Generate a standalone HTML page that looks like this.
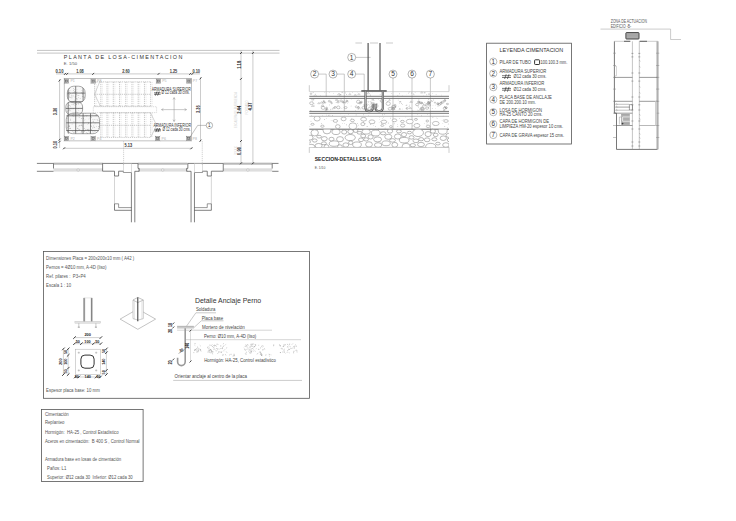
<!DOCTYPE html>
<html><head><meta charset="utf-8"><title>Planta de losa - cimentacion</title><style>html,body{margin:0;padding:0;background:#fff;overflow:hidden;width:736px;height:521px}
.sheet{position:absolute;left:0;top:0;width:736px;height:521px}
svg{display:block}text{font-family:"Liberation Sans",sans-serif}</style></head>
<body><div class="sheet"><svg width="736" height="521" viewBox="0 0 736 521" font-family="Liberation Sans, sans-serif">
<rect width="736" height="521" fill="#fff"/>
<line x1="37.00" y1="50.40" x2="279.50" y2="50.40" stroke="#aaa" stroke-width="0.7" />
<line x1="37.00" y1="53.10" x2="279.50" y2="53.10" stroke="#aaa" stroke-width="0.7" />
<text x="63.8" y="58.9" font-size="5.4" fill="#333" textLength="118.5" lengthAdjust="spacing">PLANTA DE LOSA-CIMENTACION</text>
<text transform="translate(63.80 64.60) scale(0.9539 1)" font-size="4.400" fill="#555" text-anchor="start" font-weight="normal" xml:space="preserve" >E. 1/50</text>
<line x1="56.00" y1="73.90" x2="200.00" y2="73.90" stroke="#999" stroke-width="0.5" />
<line x1="64.00" y1="74.90" x2="66.00" y2="72.90" stroke="#222" stroke-width="0.8" />
<line x1="66.20" y1="74.90" x2="68.20" y2="72.90" stroke="#222" stroke-width="0.8" />
<line x1="92.20" y1="74.90" x2="94.20" y2="72.90" stroke="#222" stroke-width="0.8" />
<line x1="157.60" y1="74.90" x2="159.60" y2="72.90" stroke="#222" stroke-width="0.8" />
<line x1="189.20" y1="74.90" x2="191.20" y2="72.90" stroke="#222" stroke-width="0.8" />
<line x1="191.40" y1="74.90" x2="193.40" y2="72.90" stroke="#222" stroke-width="0.8" />
<text transform="translate(55.40 73.00) scale(0.9249 1)" font-size="4.500" fill="#333" text-anchor="start" font-weight="bold" xml:space="preserve" >0.10</text>
<text transform="translate(80.00 73.00) scale(0.8678 1)" font-size="4.500" fill="#333" text-anchor="middle" font-weight="bold" xml:space="preserve" >1.08</text>
<text transform="translate(126.00 73.00) scale(0.8678 1)" font-size="4.500" fill="#333" text-anchor="middle" font-weight="bold" xml:space="preserve" >2.60</text>
<text transform="translate(173.50 73.00) scale(0.8678 1)" font-size="4.500" fill="#333" text-anchor="middle" font-weight="bold" xml:space="preserve" >1.25</text>
<text transform="translate(192.40 73.00) scale(0.8678 1)" font-size="4.500" fill="#333" text-anchor="start" font-weight="bold" xml:space="preserve" >0.10</text>
<rect x="64.20" y="78.60" width="127.20" height="62.30" stroke="#999" stroke-width="0.6" fill="none" />
<line x1="59.60" y1="79.00" x2="59.60" y2="148.00" stroke="#999" stroke-width="0.5" />
<line x1="58.60" y1="81.50" x2="60.60" y2="79.50" stroke="#222" stroke-width="0.8" />
<line x1="58.60" y1="140.60" x2="60.60" y2="138.60" stroke="#222" stroke-width="0.8" />
<line x1="58.60" y1="142.80" x2="60.60" y2="140.80" stroke="#222" stroke-width="0.8" />
<text transform="translate(57.00 111.50) rotate(-90) scale(0.8678 1)" font-size="4.500" fill="#333" text-anchor="middle" font-weight="bold" xml:space="preserve" >3.36</text>
<text transform="translate(57.00 144.60) rotate(-90) scale(0.8678 1)" font-size="4.500" fill="#333" text-anchor="middle" font-weight="bold" xml:space="preserve" >0.10</text>
<line x1="200.50" y1="77.00" x2="200.50" y2="142.00" stroke="#999" stroke-width="0.5" />
<line x1="199.50" y1="79.40" x2="201.50" y2="77.40" stroke="#222" stroke-width="0.8" />
<line x1="199.50" y1="141.60" x2="201.50" y2="139.60" stroke="#222" stroke-width="0.8" />
<text transform="translate(199.60 109.20) rotate(-90) scale(0.8678 1)" font-size="4.500" fill="#333" text-anchor="middle" font-weight="bold" xml:space="preserve" >3.36</text>
<line x1="63.00" y1="148.30" x2="192.50" y2="148.30" stroke="#999" stroke-width="0.5" />
<line x1="63.10" y1="149.30" x2="65.10" y2="147.30" stroke="#222" stroke-width="0.8" />
<line x1="190.40" y1="149.30" x2="192.40" y2="147.30" stroke="#222" stroke-width="0.8" />
<text transform="translate(124.50 146.90) scale(0.8678 1)" font-size="4.500" fill="#333" text-anchor="start" font-weight="bold" xml:space="preserve" >5.13</text>
<line x1="94.60" y1="81.90" x2="94.60" y2="106.20" stroke="#999" stroke-width="0.55" stroke-dasharray="1.2 0.9"/>
<line x1="96.20" y1="81.90" x2="96.20" y2="106.20" stroke="#ccc" stroke-width="0.4" stroke-dasharray="1.2 0.9"/>
<line x1="100.83" y1="81.90" x2="100.83" y2="106.20" stroke="#999" stroke-width="0.55" stroke-dasharray="1.2 0.9"/>
<line x1="102.43" y1="81.90" x2="102.43" y2="106.20" stroke="#ccc" stroke-width="0.4" stroke-dasharray="1.2 0.9"/>
<line x1="107.06" y1="81.90" x2="107.06" y2="106.20" stroke="#999" stroke-width="0.55" stroke-dasharray="1.2 0.9"/>
<line x1="108.66" y1="81.90" x2="108.66" y2="106.20" stroke="#ccc" stroke-width="0.4" stroke-dasharray="1.2 0.9"/>
<line x1="113.29" y1="81.90" x2="113.29" y2="106.20" stroke="#999" stroke-width="0.55" stroke-dasharray="1.2 0.9"/>
<line x1="114.89" y1="81.90" x2="114.89" y2="106.20" stroke="#ccc" stroke-width="0.4" stroke-dasharray="1.2 0.9"/>
<line x1="119.52" y1="81.90" x2="119.52" y2="106.20" stroke="#999" stroke-width="0.55" stroke-dasharray="1.2 0.9"/>
<line x1="121.12" y1="81.90" x2="121.12" y2="106.20" stroke="#ccc" stroke-width="0.4" stroke-dasharray="1.2 0.9"/>
<line x1="125.75" y1="81.90" x2="125.75" y2="106.20" stroke="#999" stroke-width="0.55" stroke-dasharray="1.2 0.9"/>
<line x1="127.35" y1="81.90" x2="127.35" y2="106.20" stroke="#ccc" stroke-width="0.4" stroke-dasharray="1.2 0.9"/>
<line x1="131.98" y1="81.90" x2="131.98" y2="106.20" stroke="#999" stroke-width="0.55" stroke-dasharray="1.2 0.9"/>
<line x1="133.58" y1="81.90" x2="133.58" y2="106.20" stroke="#ccc" stroke-width="0.4" stroke-dasharray="1.2 0.9"/>
<line x1="138.21" y1="81.90" x2="138.21" y2="106.20" stroke="#999" stroke-width="0.55" stroke-dasharray="1.2 0.9"/>
<line x1="139.81" y1="81.90" x2="139.81" y2="106.20" stroke="#ccc" stroke-width="0.4" stroke-dasharray="1.2 0.9"/>
<line x1="144.44" y1="81.90" x2="144.44" y2="106.20" stroke="#999" stroke-width="0.55" stroke-dasharray="1.2 0.9"/>
<line x1="146.04" y1="81.90" x2="146.04" y2="106.20" stroke="#ccc" stroke-width="0.4" stroke-dasharray="1.2 0.9"/>
<line x1="150.67" y1="81.90" x2="150.67" y2="106.20" stroke="#999" stroke-width="0.55" stroke-dasharray="1.2 0.9"/>
<line x1="152.27" y1="81.90" x2="152.27" y2="106.20" stroke="#ccc" stroke-width="0.4" stroke-dasharray="1.2 0.9"/>
<line x1="94.60" y1="81.90" x2="150.70" y2="81.90" stroke="#999" stroke-width="0.55" stroke-dasharray="1.2 0.9"/>
<line x1="94.60" y1="94.30" x2="150.70" y2="94.30" stroke="#999" stroke-width="0.55" stroke-dasharray="1.2 0.9"/>
<line x1="94.60" y1="106.20" x2="150.70" y2="106.20" stroke="#999" stroke-width="0.55" stroke-dasharray="1.2 0.9"/>
<rect x="93.30" y="106.70" width="63.30" height="5.90" stroke="#bbb" stroke-width="0.5" fill="none" stroke-dasharray="1.4 0.8"/>
<line x1="100.83" y1="112.60" x2="100.83" y2="137.40" stroke="#999" stroke-width="0.55" stroke-dasharray="1.2 0.9"/>
<line x1="102.43" y1="112.60" x2="102.43" y2="137.40" stroke="#ccc" stroke-width="0.4" stroke-dasharray="1.2 0.9"/>
<line x1="107.06" y1="112.60" x2="107.06" y2="137.40" stroke="#999" stroke-width="0.55" stroke-dasharray="1.2 0.9"/>
<line x1="108.66" y1="112.60" x2="108.66" y2="137.40" stroke="#ccc" stroke-width="0.4" stroke-dasharray="1.2 0.9"/>
<line x1="113.29" y1="112.60" x2="113.29" y2="137.40" stroke="#999" stroke-width="0.55" stroke-dasharray="1.2 0.9"/>
<line x1="114.89" y1="112.60" x2="114.89" y2="137.40" stroke="#ccc" stroke-width="0.4" stroke-dasharray="1.2 0.9"/>
<line x1="119.52" y1="112.60" x2="119.52" y2="137.40" stroke="#999" stroke-width="0.55" stroke-dasharray="1.2 0.9"/>
<line x1="121.12" y1="112.60" x2="121.12" y2="137.40" stroke="#ccc" stroke-width="0.4" stroke-dasharray="1.2 0.9"/>
<line x1="125.75" y1="112.60" x2="125.75" y2="137.40" stroke="#999" stroke-width="0.55" stroke-dasharray="1.2 0.9"/>
<line x1="127.35" y1="112.60" x2="127.35" y2="137.40" stroke="#ccc" stroke-width="0.4" stroke-dasharray="1.2 0.9"/>
<line x1="131.98" y1="112.60" x2="131.98" y2="137.40" stroke="#999" stroke-width="0.55" stroke-dasharray="1.2 0.9"/>
<line x1="133.58" y1="112.60" x2="133.58" y2="137.40" stroke="#ccc" stroke-width="0.4" stroke-dasharray="1.2 0.9"/>
<line x1="138.21" y1="112.60" x2="138.21" y2="137.40" stroke="#999" stroke-width="0.55" stroke-dasharray="1.2 0.9"/>
<line x1="139.81" y1="112.60" x2="139.81" y2="137.40" stroke="#ccc" stroke-width="0.4" stroke-dasharray="1.2 0.9"/>
<line x1="144.44" y1="112.60" x2="144.44" y2="137.40" stroke="#999" stroke-width="0.55" stroke-dasharray="1.2 0.9"/>
<line x1="146.04" y1="112.60" x2="146.04" y2="137.40" stroke="#ccc" stroke-width="0.4" stroke-dasharray="1.2 0.9"/>
<line x1="150.67" y1="112.60" x2="150.67" y2="137.40" stroke="#999" stroke-width="0.55" stroke-dasharray="1.2 0.9"/>
<line x1="152.27" y1="112.60" x2="152.27" y2="137.40" stroke="#ccc" stroke-width="0.4" stroke-dasharray="1.2 0.9"/>
<line x1="100.40" y1="112.80" x2="150.70" y2="112.80" stroke="#999" stroke-width="0.55" stroke-dasharray="1.2 0.9"/>
<line x1="100.40" y1="125.30" x2="150.70" y2="125.30" stroke="#999" stroke-width="0.55" stroke-dasharray="1.2 0.9"/>
<line x1="100.40" y1="137.40" x2="150.70" y2="137.40" stroke="#999" stroke-width="0.55" stroke-dasharray="1.2 0.9"/>
<path d="M100.4,80 L94.6,94.3 L100.4,106" stroke="#aaa" stroke-width="0.5" fill="none" />
<path d="M150.7,113.2 L156.6,125.3 L150.7,137.4" stroke="#aaa" stroke-width="0.5" fill="none" />
<rect x="64.40" y="79.10" width="4.20" height="4.00" stroke="#666" stroke-width="0.45" fill="#e8e8e8" />
<rect x="65.40" y="80.10" width="2.20" height="2.00" stroke="#444" stroke-width="0.5" fill="#bbb" />
<line x1="63.70" y1="78.40" x2="69.30" y2="83.80" stroke="#999" stroke-width="0.3" />
<line x1="63.70" y1="83.80" x2="69.30" y2="78.40" stroke="#999" stroke-width="0.3" />
<text transform="translate(70.40 82.40) scale(0.9467 1)" font-size="3.800" fill="#b0b0b0" text-anchor="start" font-weight="normal" xml:space="preserve" >P1</text>
<rect x="91.00" y="79.10" width="4.20" height="4.00" stroke="#666" stroke-width="0.45" fill="#e8e8e8" />
<rect x="92.00" y="80.10" width="2.20" height="2.00" stroke="#444" stroke-width="0.5" fill="#bbb" />
<line x1="90.30" y1="78.40" x2="95.90" y2="83.80" stroke="#999" stroke-width="0.3" />
<line x1="90.30" y1="83.80" x2="95.90" y2="78.40" stroke="#999" stroke-width="0.3" />
<text transform="translate(97.00 82.40) scale(0.9467 1)" font-size="3.800" fill="#b0b0b0" text-anchor="start" font-weight="normal" xml:space="preserve" >P3</text>
<rect x="156.20" y="79.10" width="4.20" height="4.00" stroke="#666" stroke-width="0.45" fill="#e8e8e8" />
<rect x="157.20" y="80.10" width="2.20" height="2.00" stroke="#444" stroke-width="0.5" fill="#bbb" />
<line x1="155.50" y1="78.40" x2="161.10" y2="83.80" stroke="#999" stroke-width="0.3" />
<line x1="155.50" y1="83.80" x2="161.10" y2="78.40" stroke="#999" stroke-width="0.3" />
<text transform="translate(162.20 82.40) scale(0.9467 1)" font-size="3.800" fill="#b0b0b0" text-anchor="start" font-weight="normal" xml:space="preserve" >P5</text>
<rect x="186.80" y="79.10" width="4.20" height="4.00" stroke="#666" stroke-width="0.45" fill="#e8e8e8" />
<rect x="187.80" y="80.10" width="2.20" height="2.00" stroke="#444" stroke-width="0.5" fill="#bbb" />
<line x1="186.10" y1="78.40" x2="191.70" y2="83.80" stroke="#999" stroke-width="0.3" />
<line x1="186.10" y1="83.80" x2="191.70" y2="78.40" stroke="#999" stroke-width="0.3" />
<text transform="translate(192.80 82.40) scale(0.9467 1)" font-size="3.800" fill="#b0b0b0" text-anchor="start" font-weight="normal" xml:space="preserve" >P7</text>
<rect x="64.40" y="136.40" width="4.20" height="4.00" stroke="#666" stroke-width="0.45" fill="#e8e8e8" />
<rect x="65.40" y="137.40" width="2.20" height="2.00" stroke="#444" stroke-width="0.5" fill="#bbb" />
<line x1="63.70" y1="135.70" x2="69.30" y2="141.10" stroke="#999" stroke-width="0.3" />
<line x1="63.70" y1="141.10" x2="69.30" y2="135.70" stroke="#999" stroke-width="0.3" />
<text transform="translate(70.40 139.70) scale(0.9467 1)" font-size="3.800" fill="#b0b0b0" text-anchor="start" font-weight="normal" xml:space="preserve" >P2</text>
<rect x="91.00" y="136.40" width="4.20" height="4.00" stroke="#666" stroke-width="0.45" fill="#e8e8e8" />
<rect x="92.00" y="137.40" width="2.20" height="2.00" stroke="#444" stroke-width="0.5" fill="#bbb" />
<line x1="90.30" y1="135.70" x2="95.90" y2="141.10" stroke="#999" stroke-width="0.3" />
<line x1="90.30" y1="141.10" x2="95.90" y2="135.70" stroke="#999" stroke-width="0.3" />
<text transform="translate(97.00 139.70) scale(0.9467 1)" font-size="3.800" fill="#b0b0b0" text-anchor="start" font-weight="normal" xml:space="preserve" >P4</text>
<rect x="155.60" y="136.40" width="4.20" height="4.00" stroke="#666" stroke-width="0.45" fill="#e8e8e8" />
<rect x="156.60" y="137.40" width="2.20" height="2.00" stroke="#444" stroke-width="0.5" fill="#bbb" />
<line x1="154.90" y1="135.70" x2="160.50" y2="141.10" stroke="#999" stroke-width="0.3" />
<line x1="154.90" y1="141.10" x2="160.50" y2="135.70" stroke="#999" stroke-width="0.3" />
<text transform="translate(161.60 139.70) scale(0.9467 1)" font-size="3.800" fill="#b0b0b0" text-anchor="start" font-weight="normal" xml:space="preserve" >P6</text>
<rect x="186.60" y="136.40" width="4.20" height="4.00" stroke="#666" stroke-width="0.45" fill="#e8e8e8" />
<rect x="187.60" y="137.40" width="2.20" height="2.00" stroke="#444" stroke-width="0.5" fill="#bbb" />
<line x1="185.90" y1="135.70" x2="191.50" y2="141.10" stroke="#999" stroke-width="0.3" />
<line x1="185.90" y1="141.10" x2="191.50" y2="135.70" stroke="#999" stroke-width="0.3" />
<text transform="translate(192.60 139.70) scale(0.9467 1)" font-size="3.800" fill="#b0b0b0" text-anchor="start" font-weight="normal" xml:space="preserve" >P8</text>
<text transform="translate(151.70 90.60) scale(0.7780 1)" font-size="4.500" fill="#333" text-anchor="start" font-weight="normal" xml:space="preserve" >ARMADURA SUPERIOR</text>
<text transform="translate(161.50 94.20) scale(0.7467 1)" font-size="4.500" fill="#333" text-anchor="start" font-weight="normal" xml:space="preserve" >Ø 12 cada 30 cms.</text>
<text transform="translate(153.50 126.50) scale(0.7792 1)" font-size="4.500" fill="#333" text-anchor="start" font-weight="normal" xml:space="preserve" >ARMADURA INFERIOR</text>
<text transform="translate(162.40 130.50) scale(0.7467 1)" font-size="4.500" fill="#333" text-anchor="start" font-weight="normal" xml:space="preserve" >Ø 12 cada 30 cms.</text>
<line x1="154.00" y1="92.80" x2="160.60" y2="92.80" stroke="#222" stroke-width="0.6" />
<line x1="154.00" y1="94.30" x2="160.60" y2="94.30" stroke="#222" stroke-width="0.6" />
<line x1="155.40" y1="95.60" x2="157.00" y2="91.50" stroke="#222" stroke-width="0.65" />
<line x1="157.60" y1="95.60" x2="159.20" y2="91.50" stroke="#222" stroke-width="0.65" />
<line x1="154.40" y1="129.30" x2="161.00" y2="129.30" stroke="#222" stroke-width="0.6" />
<line x1="154.40" y1="130.80" x2="161.00" y2="130.80" stroke="#222" stroke-width="0.6" />
<line x1="155.80" y1="132.10" x2="157.40" y2="128.00" stroke="#222" stroke-width="0.65" />
<line x1="158.00" y1="132.10" x2="159.60" y2="128.00" stroke="#222" stroke-width="0.65" />
<line x1="174.10" y1="97.60" x2="174.10" y2="121.50" stroke="#888" stroke-width="0.45" />
<line x1="161.50" y1="109.60" x2="186.50" y2="109.60" stroke="#888" stroke-width="0.45" />
<line x1="174.10" y1="97.60" x2="173.00" y2="99.50" stroke="#888" stroke-width="0.45" />
<line x1="174.10" y1="97.60" x2="175.20" y2="99.50" stroke="#888" stroke-width="0.45" />
<line x1="174.10" y1="121.50" x2="173.00" y2="119.60" stroke="#888" stroke-width="0.45" />
<line x1="174.10" y1="121.50" x2="175.20" y2="119.60" stroke="#888" stroke-width="0.45" />
<line x1="161.50" y1="109.60" x2="163.40" y2="108.50" stroke="#888" stroke-width="0.45" />
<line x1="161.50" y1="109.60" x2="163.40" y2="110.70" stroke="#888" stroke-width="0.45" />
<line x1="186.50" y1="109.60" x2="184.60" y2="108.50" stroke="#888" stroke-width="0.45" />
<line x1="186.50" y1="109.60" x2="184.60" y2="110.70" stroke="#888" stroke-width="0.45" />
<line x1="206.40" y1="125.40" x2="197.70" y2="125.40" stroke="#777" stroke-width="0.45" />
<line x1="197.70" y1="125.40" x2="190.60" y2="136.20" stroke="#777" stroke-width="0.45" />
<circle cx="209.40" cy="125.40" r="3.20" stroke="#777" stroke-width="0.55" fill="#fff"/>
<text x="209.40" y="127.06" font-size="4.6" fill="#333" text-anchor="middle" font-weight="normal" >1</text>
<defs><clipPath id="blob"><rect x="67.3" y="86.2" width="17.9" height="16.6" rx="6.5" ry="6.5"/><rect x="65.8" y="101.8" width="16.8" height="13" rx="5" ry="5"/><rect x="66.2" y="113.2" width="33.3" height="20.5" rx="6.5" ry="6.5"/><rect x="66.2" y="113.2" width="14" height="20.5" rx="3" ry="3"/></clipPath></defs>
<g clip-path="url(#blob)">
<rect x="60.00" y="84.00" width="45.00" height="52.00" stroke="none" stroke-width="0" fill="#f8f8f8" />
<circle cx="76.3" cy="92.4" r="0.36" fill="#888"/>
<circle cx="67.5" cy="111.3" r="0.29" fill="#888"/>
<circle cx="67.0" cy="109.9" r="0.21" fill="#888"/>
<circle cx="80.2" cy="88.4" r="0.22" fill="#888"/>
<circle cx="79.9" cy="125.5" r="0.23" fill="#888"/>
<circle cx="72.8" cy="115.7" r="0.44" fill="#888"/>
<circle cx="85.2" cy="104.4" r="0.44" fill="#888"/>
<circle cx="66.6" cy="127.1" r="0.27" fill="#888"/>
<circle cx="70.0" cy="90.8" r="0.28" fill="#888"/>
<circle cx="93.6" cy="93.9" r="0.35" fill="#888"/>
<circle cx="87.4" cy="103.2" r="0.34" fill="#888"/>
<circle cx="67.2" cy="87.9" r="0.25" fill="#888"/>
<circle cx="88.8" cy="106.0" r="0.28" fill="#888"/>
<circle cx="85.5" cy="107.2" r="0.27" fill="#888"/>
<circle cx="92.8" cy="119.3" r="0.26" fill="#888"/>
<circle cx="85.1" cy="110.7" r="0.42" fill="#888"/>
<circle cx="90.5" cy="99.1" r="0.45" fill="#888"/>
<circle cx="69.1" cy="105.5" r="0.39" fill="#888"/>
<circle cx="70.3" cy="109.0" r="0.21" fill="#888"/>
<circle cx="88.4" cy="122.5" r="0.34" fill="#888"/>
<circle cx="95.6" cy="100.4" r="0.37" fill="#888"/>
<circle cx="85.8" cy="113.4" r="0.31" fill="#888"/>
<circle cx="94.4" cy="131.3" r="0.32" fill="#888"/>
<circle cx="88.2" cy="88.0" r="0.38" fill="#888"/>
<circle cx="87.6" cy="133.7" r="0.41" fill="#888"/>
<circle cx="75.0" cy="103.9" r="0.37" fill="#888"/>
<circle cx="65.8" cy="107.6" r="0.24" fill="#888"/>
<circle cx="69.1" cy="87.9" r="0.39" fill="#888"/>
<circle cx="69.5" cy="97.1" r="0.30" fill="#888"/>
<circle cx="95.5" cy="88.9" r="0.31" fill="#888"/>
<circle cx="84.2" cy="128.3" r="0.40" fill="#888"/>
<circle cx="95.2" cy="98.6" r="0.30" fill="#888"/>
<circle cx="77.6" cy="128.3" r="0.44" fill="#888"/>
<circle cx="70.3" cy="93.6" r="0.26" fill="#888"/>
<circle cx="73.2" cy="108.8" r="0.35" fill="#888"/>
<circle cx="74.2" cy="85.2" r="0.30" fill="#888"/>
<circle cx="77.9" cy="112.8" r="0.44" fill="#888"/>
<circle cx="89.2" cy="110.3" r="0.35" fill="#888"/>
<circle cx="88.7" cy="87.6" r="0.42" fill="#888"/>
<circle cx="92.3" cy="127.9" r="0.40" fill="#888"/>
<circle cx="78.7" cy="104.5" r="0.23" fill="#888"/>
<circle cx="87.2" cy="88.1" r="0.22" fill="#888"/>
<circle cx="72.3" cy="93.0" r="0.29" fill="#888"/>
<circle cx="66.8" cy="85.0" r="0.24" fill="#888"/>
<circle cx="68.6" cy="102.8" r="0.21" fill="#888"/>
<circle cx="95.6" cy="115.1" r="0.24" fill="#888"/>
<circle cx="73.8" cy="102.0" r="0.29" fill="#888"/>
<circle cx="69.3" cy="126.6" r="0.45" fill="#888"/>
<circle cx="81.3" cy="108.7" r="0.22" fill="#888"/>
<circle cx="68.6" cy="101.8" r="0.27" fill="#888"/>
<circle cx="94.0" cy="92.9" r="0.21" fill="#888"/>
<circle cx="98.3" cy="110.9" r="0.24" fill="#888"/>
<circle cx="84.0" cy="86.3" r="0.33" fill="#888"/>
<circle cx="99.2" cy="127.3" r="0.37" fill="#888"/>
<circle cx="74.1" cy="103.0" r="0.24" fill="#888"/>
<circle cx="92.0" cy="111.1" r="0.39" fill="#888"/>
<circle cx="76.5" cy="95.9" r="0.40" fill="#888"/>
<circle cx="99.5" cy="126.8" r="0.40" fill="#888"/>
<circle cx="93.6" cy="121.3" r="0.26" fill="#888"/>
<circle cx="83.1" cy="102.4" r="0.21" fill="#888"/>
<circle cx="66.0" cy="98.7" r="0.26" fill="#888"/>
<circle cx="89.2" cy="131.9" r="0.31" fill="#888"/>
<circle cx="97.8" cy="133.4" r="0.44" fill="#888"/>
<circle cx="77.8" cy="95.8" r="0.26" fill="#888"/>
<circle cx="71.9" cy="95.0" r="0.36" fill="#888"/>
<circle cx="96.5" cy="126.2" r="0.32" fill="#888"/>
<circle cx="87.9" cy="124.2" r="0.22" fill="#888"/>
<circle cx="88.1" cy="129.6" r="0.40" fill="#888"/>
<circle cx="91.3" cy="108.4" r="0.24" fill="#888"/>
<circle cx="92.6" cy="101.3" r="0.40" fill="#888"/>
<circle cx="99.0" cy="104.4" r="0.30" fill="#888"/>
<circle cx="98.1" cy="120.5" r="0.24" fill="#888"/>
<circle cx="69.4" cy="92.4" r="0.43" fill="#888"/>
<circle cx="93.2" cy="92.2" r="0.41" fill="#888"/>
<circle cx="99.3" cy="117.2" r="0.29" fill="#888"/>
<circle cx="84.2" cy="91.4" r="0.20" fill="#888"/>
<circle cx="99.0" cy="116.8" r="0.33" fill="#888"/>
<circle cx="97.7" cy="106.3" r="0.42" fill="#888"/>
<circle cx="93.9" cy="95.3" r="0.26" fill="#888"/>
<circle cx="75.3" cy="96.8" r="0.35" fill="#888"/>
<circle cx="74.1" cy="105.5" r="0.23" fill="#888"/>
<circle cx="96.9" cy="102.3" r="0.31" fill="#888"/>
<circle cx="85.4" cy="129.3" r="0.31" fill="#888"/>
<circle cx="97.1" cy="109.6" r="0.33" fill="#888"/>
<circle cx="83.3" cy="85.9" r="0.31" fill="#888"/>
<circle cx="71.4" cy="85.2" r="0.40" fill="#888"/>
<circle cx="71.0" cy="108.2" r="0.38" fill="#888"/>
<circle cx="84.5" cy="101.0" r="0.33" fill="#888"/>
<circle cx="84.4" cy="123.4" r="0.23" fill="#888"/>
<circle cx="84.6" cy="97.2" r="0.27" fill="#888"/>
<circle cx="92.0" cy="109.9" r="0.34" fill="#888"/>
<circle cx="91.6" cy="129.7" r="0.31" fill="#888"/>
<circle cx="86.4" cy="109.8" r="0.33" fill="#888"/>
<circle cx="89.2" cy="107.2" r="0.33" fill="#888"/>
<circle cx="81.7" cy="131.1" r="0.37" fill="#888"/>
<circle cx="95.7" cy="131.2" r="0.26" fill="#888"/>
<circle cx="84.6" cy="131.2" r="0.41" fill="#888"/>
<circle cx="69.8" cy="91.0" r="0.31" fill="#888"/>
<circle cx="67.5" cy="96.8" r="0.22" fill="#888"/>
<circle cx="88.4" cy="123.4" r="0.42" fill="#888"/>
<circle cx="70.4" cy="120.1" r="0.37" fill="#888"/>
<circle cx="70.0" cy="128.3" r="0.44" fill="#888"/>
<circle cx="72.7" cy="131.7" r="0.30" fill="#888"/>
<circle cx="82.1" cy="133.5" r="0.41" fill="#888"/>
<circle cx="70.7" cy="106.1" r="0.33" fill="#888"/>
<circle cx="76.9" cy="94.6" r="0.28" fill="#888"/>
<circle cx="90.3" cy="86.0" r="0.34" fill="#888"/>
<circle cx="80.4" cy="85.9" r="0.28" fill="#888"/>
<circle cx="86.8" cy="110.1" r="0.22" fill="#888"/>
<circle cx="99.5" cy="123.6" r="0.44" fill="#888"/>
<circle cx="68.7" cy="98.0" r="0.21" fill="#888"/>
<circle cx="92.3" cy="98.3" r="0.23" fill="#888"/>
<circle cx="79.8" cy="129.7" r="0.40" fill="#888"/>
<circle cx="74.1" cy="92.3" r="0.43" fill="#888"/>
<circle cx="85.0" cy="119.3" r="0.22" fill="#888"/>
<circle cx="67.0" cy="118.7" r="0.31" fill="#888"/>
<circle cx="67.5" cy="131.0" r="0.36" fill="#888"/>
<circle cx="93.1" cy="89.1" r="0.41" fill="#888"/>
<circle cx="67.3" cy="127.3" r="0.31" fill="#888"/>
<circle cx="76.9" cy="112.1" r="0.43" fill="#888"/>
<circle cx="74.4" cy="91.3" r="0.33" fill="#888"/>
<circle cx="73.3" cy="90.4" r="0.24" fill="#888"/>
<circle cx="66.8" cy="94.9" r="0.28" fill="#888"/>
<circle cx="75.7" cy="122.2" r="0.27" fill="#888"/>
<circle cx="82.5" cy="93.7" r="0.29" fill="#888"/>
<circle cx="65.6" cy="97.3" r="0.20" fill="#888"/>
<circle cx="90.7" cy="112.0" r="0.25" fill="#888"/>
<circle cx="81.6" cy="130.8" r="0.23" fill="#888"/>
<circle cx="93.7" cy="106.2" r="0.32" fill="#888"/>
<circle cx="94.2" cy="104.3" r="0.33" fill="#888"/>
<circle cx="89.1" cy="133.1" r="0.29" fill="#888"/>
<circle cx="94.1" cy="119.6" r="0.36" fill="#888"/>
<circle cx="79.2" cy="102.0" r="0.21" fill="#888"/>
<circle cx="69.5" cy="88.5" r="0.39" fill="#888"/>
<circle cx="73.9" cy="93.0" r="0.22" fill="#888"/>
<circle cx="94.4" cy="127.7" r="0.37" fill="#888"/>
<circle cx="74.9" cy="96.9" r="0.27" fill="#888"/>
<circle cx="81.1" cy="92.7" r="0.31" fill="#888"/>
<circle cx="74.2" cy="132.1" r="0.44" fill="#888"/>
<circle cx="84.1" cy="97.0" r="0.44" fill="#888"/>
<circle cx="75.8" cy="102.5" r="0.20" fill="#888"/>
<circle cx="78.4" cy="108.3" r="0.33" fill="#888"/>
<circle cx="72.0" cy="109.7" r="0.20" fill="#888"/>
<circle cx="74.2" cy="89.4" r="0.30" fill="#888"/>
<circle cx="66.5" cy="86.1" r="0.28" fill="#888"/>
<circle cx="73.1" cy="113.7" r="0.33" fill="#888"/>
<circle cx="91.3" cy="117.2" r="0.38" fill="#888"/>
<circle cx="95.8" cy="104.1" r="0.28" fill="#888"/>
<circle cx="99.5" cy="92.3" r="0.38" fill="#888"/>
<circle cx="87.5" cy="87.1" r="0.41" fill="#888"/>
<circle cx="96.2" cy="115.7" r="0.38" fill="#888"/>
<circle cx="93.4" cy="91.8" r="0.33" fill="#888"/>
<circle cx="82.7" cy="125.9" r="0.40" fill="#888"/>
<circle cx="93.9" cy="113.6" r="0.42" fill="#888"/>
<circle cx="88.9" cy="119.0" r="0.26" fill="#888"/>
<circle cx="66.1" cy="91.5" r="0.29" fill="#888"/>
<circle cx="68.7" cy="126.0" r="0.34" fill="#888"/>
<circle cx="87.0" cy="115.7" r="0.37" fill="#888"/>
<circle cx="82.1" cy="85.2" r="0.40" fill="#888"/>
<circle cx="91.2" cy="109.6" r="0.33" fill="#888"/>
<circle cx="88.1" cy="88.2" r="0.38" fill="#888"/>
<circle cx="73.8" cy="88.6" r="0.27" fill="#888"/>
<circle cx="90.5" cy="95.1" r="0.38" fill="#888"/>
<circle cx="99.2" cy="109.2" r="0.30" fill="#888"/>
<circle cx="81.8" cy="118.5" r="0.39" fill="#888"/>
<circle cx="86.6" cy="116.5" r="0.22" fill="#888"/>
<circle cx="70.2" cy="97.4" r="0.39" fill="#888"/>
<circle cx="75.7" cy="112.8" r="0.20" fill="#888"/>
<circle cx="67.1" cy="98.2" r="0.37" fill="#888"/>
<circle cx="89.2" cy="118.1" r="0.27" fill="#888"/>
<circle cx="83.1" cy="107.8" r="0.32" fill="#888"/>
<circle cx="69.1" cy="128.8" r="0.25" fill="#888"/>
<circle cx="99.2" cy="130.9" r="0.20" fill="#888"/>
<circle cx="81.1" cy="125.2" r="0.44" fill="#888"/>
<circle cx="80.7" cy="98.2" r="0.25" fill="#888"/>
<circle cx="98.1" cy="95.3" r="0.35" fill="#888"/>
<circle cx="70.0" cy="110.7" r="0.44" fill="#888"/>
<circle cx="69.6" cy="125.2" r="0.33" fill="#888"/>
<circle cx="96.0" cy="119.5" r="0.26" fill="#888"/>
<circle cx="96.4" cy="108.8" r="0.21" fill="#888"/>
<circle cx="65.1" cy="109.1" r="0.31" fill="#888"/>
<circle cx="75.6" cy="91.9" r="0.29" fill="#888"/>
<circle cx="76.1" cy="126.2" r="0.20" fill="#888"/>
<circle cx="91.3" cy="126.1" r="0.23" fill="#888"/>
<circle cx="97.4" cy="119.9" r="0.43" fill="#888"/>
<circle cx="75.1" cy="103.2" r="0.30" fill="#888"/>
<circle cx="100.0" cy="113.9" r="0.29" fill="#888"/>
<circle cx="80.0" cy="98.5" r="0.21" fill="#888"/>
<circle cx="68.6" cy="125.9" r="0.27" fill="#888"/>
<circle cx="97.7" cy="97.2" r="0.27" fill="#888"/>
<circle cx="82.9" cy="94.3" r="0.29" fill="#888"/>
<circle cx="98.5" cy="128.3" r="0.40" fill="#888"/>
<circle cx="87.1" cy="129.8" r="0.44" fill="#888"/>
<circle cx="84.2" cy="120.3" r="0.21" fill="#888"/>
<circle cx="90.6" cy="107.1" r="0.39" fill="#888"/>
<circle cx="87.6" cy="99.0" r="0.21" fill="#888"/>
<circle cx="97.4" cy="91.2" r="0.32" fill="#888"/>
<circle cx="77.0" cy="99.6" r="0.38" fill="#888"/>
<circle cx="99.2" cy="97.7" r="0.36" fill="#888"/>
<circle cx="75.5" cy="112.3" r="0.30" fill="#888"/>
<circle cx="70.9" cy="92.9" r="0.25" fill="#888"/>
<circle cx="96.7" cy="109.4" r="0.26" fill="#888"/>
<circle cx="96.7" cy="133.8" r="0.31" fill="#888"/>
<circle cx="69.9" cy="94.4" r="0.22" fill="#888"/>
<circle cx="77.0" cy="89.5" r="0.26" fill="#888"/>
<circle cx="74.0" cy="112.9" r="0.42" fill="#888"/>
<circle cx="91.2" cy="105.2" r="0.30" fill="#888"/>
<circle cx="83.3" cy="103.5" r="0.28" fill="#888"/>
<circle cx="67.2" cy="98.6" r="0.44" fill="#888"/>
<circle cx="69.4" cy="109.7" r="0.36" fill="#888"/>
<circle cx="95.2" cy="95.6" r="0.27" fill="#888"/>
<circle cx="73.7" cy="104.6" r="0.31" fill="#888"/>
<circle cx="98.4" cy="126.6" r="0.42" fill="#888"/>
<circle cx="65.8" cy="86.6" r="0.38" fill="#888"/>
<circle cx="96.3" cy="108.2" r="0.35" fill="#888"/>
<circle cx="65.0" cy="104.2" r="0.43" fill="#888"/>
<circle cx="93.9" cy="126.9" r="0.44" fill="#888"/>
<circle cx="73.7" cy="90.3" r="0.24" fill="#888"/>
<circle cx="83.3" cy="118.4" r="0.44" fill="#888"/>
<circle cx="90.3" cy="116.7" r="0.39" fill="#888"/>
<circle cx="81.0" cy="112.0" r="0.21" fill="#888"/>
<circle cx="92.4" cy="96.4" r="0.43" fill="#888"/>
<circle cx="87.6" cy="99.9" r="0.23" fill="#888"/>
<circle cx="73.8" cy="116.2" r="0.37" fill="#888"/>
<circle cx="68.9" cy="88.4" r="0.33" fill="#888"/>
<circle cx="85.4" cy="104.0" r="0.26" fill="#888"/>
<circle cx="86.0" cy="85.5" r="0.28" fill="#888"/>
<circle cx="81.1" cy="132.0" r="0.36" fill="#888"/>
<circle cx="95.9" cy="108.3" r="0.26" fill="#888"/>
<circle cx="73.6" cy="132.1" r="0.38" fill="#888"/>
<circle cx="75.8" cy="86.1" r="0.32" fill="#888"/>
<circle cx="88.6" cy="105.6" r="0.26" fill="#888"/>
<circle cx="88.4" cy="130.3" r="0.26" fill="#888"/>
<circle cx="66.2" cy="101.6" r="0.31" fill="#888"/>
<circle cx="88.9" cy="94.7" r="0.40" fill="#888"/>
<circle cx="90.9" cy="109.7" r="0.25" fill="#888"/>
<circle cx="98.9" cy="100.3" r="0.41" fill="#888"/>
<circle cx="73.1" cy="95.9" r="0.39" fill="#888"/>
<circle cx="75.3" cy="131.6" r="0.32" fill="#888"/>
<circle cx="71.6" cy="95.9" r="0.30" fill="#888"/>
<circle cx="88.3" cy="131.5" r="0.24" fill="#888"/>
<circle cx="78.8" cy="95.4" r="0.44" fill="#888"/>
<circle cx="70.0" cy="87.5" r="0.22" fill="#888"/>
<circle cx="78.8" cy="129.0" r="0.42" fill="#888"/>
<circle cx="90.6" cy="133.9" r="0.43" fill="#888"/>
<circle cx="76.5" cy="94.1" r="0.43" fill="#888"/>
<circle cx="91.1" cy="86.6" r="0.37" fill="#888"/>
<circle cx="78.3" cy="103.3" r="0.28" fill="#888"/>
<circle cx="70.9" cy="85.1" r="0.27" fill="#888"/>
<circle cx="77.3" cy="131.8" r="0.23" fill="#888"/>
<circle cx="98.7" cy="95.2" r="0.29" fill="#888"/>
<circle cx="93.8" cy="125.3" r="0.31" fill="#888"/>
<circle cx="66.7" cy="108.2" r="0.29" fill="#888"/>
<circle cx="97.2" cy="94.5" r="0.29" fill="#888"/>
<circle cx="96.4" cy="86.5" r="0.30" fill="#888"/>
<circle cx="93.4" cy="122.6" r="0.21" fill="#888"/>
<circle cx="66.2" cy="88.1" r="0.43" fill="#888"/>
<circle cx="74.0" cy="121.6" r="0.42" fill="#888"/>
<circle cx="76.9" cy="98.3" r="0.44" fill="#888"/>
<circle cx="86.6" cy="97.8" r="0.38" fill="#888"/>
<circle cx="76.1" cy="98.5" r="0.20" fill="#888"/>
<circle cx="91.4" cy="129.9" r="0.36" fill="#888"/>
<circle cx="98.0" cy="86.2" r="0.26" fill="#888"/>
<circle cx="81.6" cy="131.9" r="0.44" fill="#888"/>
<circle cx="78.5" cy="97.3" r="0.31" fill="#888"/>
<circle cx="82.3" cy="130.5" r="0.25" fill="#888"/>
<circle cx="93.1" cy="121.2" r="0.41" fill="#888"/>
<circle cx="92.0" cy="114.8" r="0.28" fill="#888"/>
<circle cx="76.2" cy="102.7" r="0.40" fill="#888"/>
<circle cx="67.8" cy="94.7" r="0.39" fill="#888"/>
<circle cx="73.7" cy="88.2" r="0.21" fill="#888"/>
<circle cx="84.3" cy="101.0" r="0.45" fill="#888"/>
<circle cx="95.9" cy="133.4" r="0.27" fill="#888"/>
<circle cx="67.9" cy="89.7" r="0.32" fill="#888"/>
<circle cx="89.8" cy="106.9" r="0.26" fill="#888"/>
<circle cx="79.6" cy="115.4" r="0.37" fill="#888"/>
<circle cx="91.2" cy="126.5" r="0.37" fill="#888"/>
<circle cx="69.2" cy="126.2" r="0.27" fill="#888"/>
<circle cx="84.8" cy="103.3" r="0.38" fill="#888"/>
<circle cx="72.0" cy="97.1" r="0.26" fill="#888"/>
<circle cx="70.4" cy="128.3" r="0.34" fill="#888"/>
<circle cx="76.4" cy="104.4" r="0.45" fill="#888"/>
<circle cx="82.8" cy="96.3" r="0.40" fill="#888"/>
<circle cx="87.9" cy="133.6" r="0.23" fill="#888"/>
<circle cx="81.6" cy="125.1" r="0.41" fill="#888"/>
<circle cx="97.0" cy="87.0" r="0.27" fill="#888"/>
<circle cx="69.2" cy="94.3" r="0.44" fill="#888"/>
<circle cx="85.4" cy="130.6" r="0.29" fill="#888"/>
<circle cx="95.3" cy="107.0" r="0.26" fill="#888"/>
<circle cx="92.2" cy="131.3" r="0.23" fill="#888"/>
<circle cx="85.9" cy="115.4" r="0.25" fill="#888"/>
<circle cx="77.9" cy="91.9" r="0.25" fill="#888"/>
<circle cx="73.9" cy="114.4" r="0.36" fill="#888"/>
<circle cx="72.1" cy="85.6" r="0.28" fill="#888"/>
<circle cx="88.7" cy="94.1" r="0.28" fill="#888"/>
<circle cx="72.1" cy="124.0" r="0.34" fill="#888"/>
<circle cx="67.2" cy="90.0" r="0.30" fill="#888"/>
<circle cx="84.3" cy="116.3" r="0.22" fill="#888"/>
<circle cx="70.7" cy="119.1" r="0.30" fill="#888"/>
<circle cx="74.9" cy="100.1" r="0.44" fill="#888"/>
<line x1="75.93" y1="112.76" x2="75.18" y2="113.71" stroke="#999" stroke-width="0.35" />
<line x1="95.25" y1="133.83" x2="94.60" y2="134.59" stroke="#999" stroke-width="0.35" />
<line x1="90.48" y1="94.98" x2="92.18" y2="95.04" stroke="#999" stroke-width="0.35" />
<line x1="79.83" y1="125.20" x2="78.43" y2="126.14" stroke="#999" stroke-width="0.35" />
<line x1="81.13" y1="92.96" x2="82.48" y2="93.09" stroke="#999" stroke-width="0.35" />
<line x1="87.42" y1="129.58" x2="88.63" y2="130.33" stroke="#999" stroke-width="0.35" />
<line x1="77.98" y1="109.72" x2="78.64" y2="110.58" stroke="#999" stroke-width="0.35" />
<line x1="83.24" y1="130.35" x2="84.24" y2="131.16" stroke="#999" stroke-width="0.35" />
<line x1="93.17" y1="132.38" x2="93.47" y2="133.25" stroke="#999" stroke-width="0.35" />
<line x1="98.01" y1="132.80" x2="97.16" y2="132.90" stroke="#999" stroke-width="0.35" />
<line x1="97.42" y1="104.01" x2="98.58" y2="103.20" stroke="#999" stroke-width="0.35" />
<line x1="93.86" y1="92.85" x2="94.09" y2="91.86" stroke="#999" stroke-width="0.35" />
<line x1="79.16" y1="126.47" x2="79.62" y2="125.61" stroke="#999" stroke-width="0.35" />
<line x1="72.63" y1="104.59" x2="71.46" y2="104.46" stroke="#999" stroke-width="0.35" />
<line x1="69.31" y1="97.11" x2="69.04" y2="95.43" stroke="#999" stroke-width="0.35" />
<line x1="66.44" y1="112.55" x2="66.48" y2="111.72" stroke="#999" stroke-width="0.35" />
<line x1="94.34" y1="90.77" x2="93.24" y2="89.98" stroke="#999" stroke-width="0.35" />
<line x1="86.95" y1="100.00" x2="85.74" y2="100.67" stroke="#999" stroke-width="0.35" />
<line x1="79.90" y1="117.28" x2="78.73" y2="117.69" stroke="#999" stroke-width="0.35" />
<line x1="65.82" y1="115.33" x2="64.79" y2="115.40" stroke="#999" stroke-width="0.35" />
<line x1="91.72" y1="123.22" x2="90.78" y2="123.47" stroke="#999" stroke-width="0.35" />
<line x1="81.56" y1="90.25" x2="82.41" y2="91.14" stroke="#999" stroke-width="0.35" />
<line x1="68.21" y1="106.66" x2="67.37" y2="106.60" stroke="#999" stroke-width="0.35" />
<line x1="87.28" y1="89.03" x2="87.11" y2="87.46" stroke="#999" stroke-width="0.35" />
<line x1="82.90" y1="87.66" x2="81.72" y2="87.63" stroke="#999" stroke-width="0.35" />
<line x1="98.28" y1="91.67" x2="99.40" y2="90.27" stroke="#999" stroke-width="0.35" />
<line x1="90.62" y1="124.93" x2="91.24" y2="126.61" stroke="#999" stroke-width="0.35" />
<line x1="82.22" y1="131.88" x2="83.05" y2="131.39" stroke="#999" stroke-width="0.35" />
<line x1="92.59" y1="130.60" x2="93.65" y2="131.06" stroke="#999" stroke-width="0.35" />
<line x1="91.47" y1="92.78" x2="92.32" y2="92.13" stroke="#999" stroke-width="0.35" />
<line x1="93.55" y1="92.04" x2="91.83" y2="92.01" stroke="#999" stroke-width="0.35" />
<line x1="72.29" y1="97.88" x2="71.17" y2="97.84" stroke="#999" stroke-width="0.35" />
<line x1="66.29" y1="93.92" x2="67.21" y2="95.40" stroke="#999" stroke-width="0.35" />
<line x1="88.79" y1="128.88" x2="89.56" y2="130.26" stroke="#999" stroke-width="0.35" />
<line x1="69.03" y1="111.01" x2="68.27" y2="110.13" stroke="#999" stroke-width="0.35" />
<line x1="95.55" y1="112.20" x2="94.08" y2="111.40" stroke="#999" stroke-width="0.35" />
<line x1="68.66" y1="133.65" x2="67.84" y2="132.79" stroke="#999" stroke-width="0.35" />
<line x1="92.92" y1="97.97" x2="94.29" y2="97.89" stroke="#999" stroke-width="0.35" />
<line x1="77.61" y1="122.47" x2="76.70" y2="122.82" stroke="#999" stroke-width="0.35" />
<line x1="91.03" y1="87.37" x2="91.47" y2="86.41" stroke="#999" stroke-width="0.35" />
<line x1="87.37" y1="133.22" x2="86.12" y2="132.47" stroke="#999" stroke-width="0.35" />
<line x1="75.94" y1="85.09" x2="76.87" y2="85.29" stroke="#999" stroke-width="0.35" />
<line x1="86.56" y1="106.18" x2="84.87" y2="106.05" stroke="#999" stroke-width="0.35" />
<line x1="69.62" y1="96.14" x2="69.15" y2="95.46" stroke="#999" stroke-width="0.35" />
<line x1="65.09" y1="102.39" x2="66.00" y2="103.11" stroke="#999" stroke-width="0.35" />
<line x1="72.85" y1="113.60" x2="72.00" y2="113.06" stroke="#999" stroke-width="0.35" />
<line x1="86.84" y1="108.27" x2="87.99" y2="109.57" stroke="#999" stroke-width="0.35" />
<line x1="73.53" y1="92.32" x2="74.71" y2="93.13" stroke="#999" stroke-width="0.35" />
<line x1="95.49" y1="123.33" x2="94.63" y2="123.94" stroke="#999" stroke-width="0.35" />
<line x1="65.40" y1="116.60" x2="64.34" y2="116.17" stroke="#999" stroke-width="0.35" />
<line x1="68.20" y1="84.00" x2="68.20" y2="136.00" stroke="#444" stroke-width="0.65" />
<line x1="75.70" y1="84.00" x2="75.70" y2="136.00" stroke="#444" stroke-width="0.65" />
<line x1="83.10" y1="84.00" x2="83.10" y2="136.00" stroke="#444" stroke-width="0.65" />
<line x1="90.50" y1="84.00" x2="90.50" y2="136.00" stroke="#444" stroke-width="0.65" />
<line x1="60.00" y1="93.10" x2="105.00" y2="93.10" stroke="#444" stroke-width="0.65" />
<line x1="60.00" y1="101.70" x2="105.00" y2="101.70" stroke="#444" stroke-width="0.65" />
<line x1="60.00" y1="108.40" x2="105.00" y2="108.40" stroke="#444" stroke-width="0.65" />
<line x1="60.00" y1="115.80" x2="105.00" y2="115.80" stroke="#444" stroke-width="0.65" />
<line x1="60.00" y1="122.80" x2="105.00" y2="122.80" stroke="#444" stroke-width="0.65" />
<line x1="60.00" y1="130.50" x2="105.00" y2="130.50" stroke="#444" stroke-width="0.65" />
</g>
<g fill="none" stroke="#666" stroke-width="0.55"><rect x="67.3" y="86.2" width="17.9" height="16.6" rx="6.5" ry="6.5"/><rect x="65.8" y="101.8" width="16.8" height="13" rx="5" ry="5"/><rect x="66.2" y="113.2" width="33.3" height="20.5" rx="6.5" ry="6.5"/></g>
<g clip-path="url(#blob)"><rect x="60" y="84" width="45" height="52" fill="none" stroke="none"/></g>
<rect x="53.50" y="162.60" width="49.30" height="2.20" stroke="none" stroke-width="0" fill="#c4c4c4" />
<line x1="53.50" y1="163.60" x2="102.80" y2="163.60" stroke="#aaa" stroke-width="0.5" />
<rect x="53.50" y="168.30" width="49.30" height="3.30" stroke="none" stroke-width="0" fill="#dedede" />
<circle cx="78.15" cy="170.00" r="1.30" stroke="#aaa" stroke-width="0.4" fill="#eee"/>
<rect x="138.00" y="162.60" width="49.40" height="2.20" stroke="none" stroke-width="0" fill="#c4c4c4" />
<line x1="138.00" y1="163.60" x2="187.40" y2="163.60" stroke="#aaa" stroke-width="0.5" />
<rect x="138.00" y="168.30" width="49.40" height="3.30" stroke="none" stroke-width="0" fill="#dedede" />
<circle cx="162.70" cy="170.00" r="1.30" stroke="#aaa" stroke-width="0.4" fill="#eee"/>
<rect x="223.50" y="162.60" width="48.70" height="2.20" stroke="none" stroke-width="0" fill="#c4c4c4" />
<line x1="223.50" y1="163.60" x2="272.20" y2="163.60" stroke="#aaa" stroke-width="0.5" />
<rect x="223.50" y="168.30" width="48.70" height="3.30" stroke="none" stroke-width="0" fill="#dedede" />
<circle cx="247.85" cy="170.00" r="1.30" stroke="#aaa" stroke-width="0.4" fill="#eee"/>
<line x1="36.90" y1="163.40" x2="53.50" y2="163.40" stroke="#555" stroke-width="0.75" />
<line x1="36.90" y1="171.30" x2="53.50" y2="171.30" stroke="#555" stroke-width="0.75" />
<line x1="53.50" y1="163.40" x2="53.50" y2="168.50" stroke="#555" stroke-width="0.75" />
<line x1="272.20" y1="163.40" x2="278.50" y2="163.40" stroke="#555" stroke-width="0.75" />
<line x1="272.20" y1="171.30" x2="278.50" y2="171.30" stroke="#555" stroke-width="0.75" />
<line x1="272.20" y1="163.40" x2="272.20" y2="168.50" stroke="#555" stroke-width="0.75" />
<g >
<path d="M102.6,171.3 L102.6,163.4 L138,163.4 L138,168.4 L139.2,168.4 L139.2,171.3" stroke="#555" stroke-width="0.75" fill="none" />
<path d="M102.8,171.2 L114.5,171.2 L114.5,176 L118.6,176 L118.6,171.2 L123.4,171.2 L123.4,172.5 L131.4,172.5 L131.4,222.3" stroke="#555" stroke-width="0.75" fill="none" />
<path d="M134.8,222.3 L134.8,171.3 L139.2,171.3" stroke="#555" stroke-width="0.75" fill="none" />
<line x1="114.50" y1="176.00" x2="114.50" y2="203.80" stroke="#aaa" stroke-width="0.5" />
<path d="M114.5,203.8 L114.5,210.3 L131.6,210.3" stroke="#555" stroke-width="0.75" fill="none" />
<path d="M118.6,207.6 L118.6,203.8 L114.5,203.8" stroke="#555" stroke-width="0.6" fill="none" />
<path d="M118.6,207.6 L131.6,207.6" stroke="#555" stroke-width="0.6" fill="none" />
<rect x="123.40" y="163.60" width="8.00" height="8.90" stroke="#bbb" stroke-width="0.5" fill="none" />
<line x1="123.60" y1="141.20" x2="123.60" y2="165.00" stroke="#999" stroke-width="0.45" stroke-dasharray="1.2 0.9"/>
</g>
<g transform="matrix(-1 0 0 1 325.85 0)">
<path d="M102.6,171.3 L102.6,163.4 L138,163.4 L138,168.4 L139.2,168.4 L139.2,171.3" stroke="#555" stroke-width="0.75" fill="none" />
<path d="M102.8,171.2 L114.5,171.2 L114.5,176 L118.6,176 L118.6,171.2 L123.4,171.2 L123.4,172.5 L131.4,172.5 L131.4,222.3" stroke="#555" stroke-width="0.75" fill="none" />
<path d="M134.8,222.3 L134.8,171.3 L139.2,171.3" stroke="#555" stroke-width="0.75" fill="none" />
<line x1="114.50" y1="176.00" x2="114.50" y2="203.80" stroke="#aaa" stroke-width="0.5" />
<path d="M114.5,203.8 L114.5,210.3 L131.6,210.3" stroke="#555" stroke-width="0.75" fill="none" />
<path d="M118.6,207.6 L118.6,203.8 L114.5,203.8" stroke="#555" stroke-width="0.6" fill="none" />
<path d="M118.6,207.6 L131.6,207.6" stroke="#555" stroke-width="0.6" fill="none" />
<rect x="123.40" y="163.60" width="8.00" height="8.90" stroke="#bbb" stroke-width="0.5" fill="none" />
<line x1="123.60" y1="141.20" x2="123.60" y2="165.00" stroke="#999" stroke-width="0.45" stroke-dasharray="1.2 0.9"/>
</g>
<line x1="241.00" y1="50.40" x2="241.00" y2="163.40" stroke="#999" stroke-width="0.5" />
<line x1="252.90" y1="50.40" x2="252.90" y2="163.40" stroke="#999" stroke-width="0.5" />
<line x1="240.00" y1="54.00" x2="242.00" y2="52.00" stroke="#222" stroke-width="0.8" />
<line x1="240.00" y1="79.90" x2="242.00" y2="77.90" stroke="#222" stroke-width="0.8" />
<line x1="240.00" y1="142.00" x2="242.00" y2="140.00" stroke="#222" stroke-width="0.8" />
<line x1="240.00" y1="164.30" x2="242.00" y2="162.30" stroke="#222" stroke-width="0.8" />
<line x1="251.90" y1="54.00" x2="253.90" y2="52.00" stroke="#222" stroke-width="0.8" />
<line x1="251.90" y1="164.30" x2="253.90" y2="162.30" stroke="#222" stroke-width="0.8" />
<text transform="translate(240.50 64.80) rotate(-90) scale(0.9135 1)" font-size="4.500" fill="#222" text-anchor="middle" font-weight="bold" xml:space="preserve" >1.18</text>
<text transform="translate(240.50 109.80) rotate(-90) scale(0.9135 1)" font-size="4.500" fill="#222" text-anchor="middle" font-weight="bold" xml:space="preserve" >2.44</text>
<text transform="translate(240.50 151.00) rotate(-90) scale(0.9135 1)" font-size="4.500" fill="#222" text-anchor="middle" font-weight="bold" xml:space="preserve" >0.90</text>
<text transform="translate(252.40 106.50) rotate(-90) scale(0.9135 1)" font-size="4.500" fill="#222" text-anchor="middle" font-weight="bold" xml:space="preserve" >4.37</text>
<text transform="translate(236.60 110.00) rotate(-90) scale(0.8603 1)" font-size="3.000" fill="#cfcfcf" text-anchor="middle" font-weight="normal" xml:space="preserve" >ESCALERA DE EMERGENCIA</text>
<text transform="translate(248.40 107.50) rotate(-90) scale(0.9767 1)" font-size="3.000" fill="#cfcfcf" text-anchor="middle" font-weight="normal" xml:space="preserve" >FORJADO</text>
<text transform="translate(236.60 150.50) rotate(-90) scale(0.6279 1)" font-size="3.000" fill="#cfcfcf" text-anchor="middle" font-weight="normal" xml:space="preserve" >FORJADO</text>
<line x1="355.40" y1="43.00" x2="362.00" y2="43.00" stroke="#aaa" stroke-width="0.6" />
<line x1="370.00" y1="43.00" x2="378.00" y2="43.00" stroke="#aaa" stroke-width="0.6" />
<line x1="386.00" y1="43.00" x2="393.00" y2="43.00" stroke="#aaa" stroke-width="0.6" />
<line x1="355.40" y1="57.40" x2="370.60" y2="57.40" stroke="#888" stroke-width="0.45" />
<circle cx="351.70" cy="57.40" r="4.00" stroke="#777" stroke-width="0.55" fill="#fff"/>
<text x="351.70" y="59.78" font-size="6.6" fill="#333" text-anchor="middle" font-weight="normal" >1</text>
<path d="M318.40000000000003,74.1 L326.2,74.1 L326.2,96.8" stroke="#888" stroke-width="0.45" fill="none" />
<path d="M336.8,74.1 L344.3,74.1 L344.3,111.1" stroke="#888" stroke-width="0.45" fill="none" />
<path d="M355.5,74.1 L364.2,74.1 L364.2,91.2" stroke="#888" stroke-width="0.45" fill="none" />
<line x1="393.00" y1="77.90" x2="393.00" y2="129.00" stroke="#888" stroke-width="0.45" />
<line x1="412.00" y1="77.90" x2="412.00" y2="129.00" stroke="#888" stroke-width="0.45" />
<line x1="430.40" y1="77.90" x2="430.40" y2="134.50" stroke="#888" stroke-width="0.45" />
<circle cx="314.60" cy="74.10" r="4.00" stroke="#777" stroke-width="0.55" fill="#fff"/>
<text x="314.60" y="76.48" font-size="6.6" fill="#333" text-anchor="middle" font-weight="normal" >2</text>
<circle cx="333.00" cy="74.10" r="4.00" stroke="#777" stroke-width="0.55" fill="#fff"/>
<text x="333.00" y="76.48" font-size="6.6" fill="#333" text-anchor="middle" font-weight="normal" >3</text>
<circle cx="351.70" cy="74.10" r="4.00" stroke="#777" stroke-width="0.55" fill="#fff"/>
<text x="351.70" y="76.48" font-size="6.6" fill="#333" text-anchor="middle" font-weight="normal" >4</text>
<circle cx="393.00" cy="74.10" r="4.00" stroke="#777" stroke-width="0.55" fill="#fff"/>
<text x="393.00" y="76.48" font-size="6.6" fill="#333" text-anchor="middle" font-weight="normal" >5</text>
<circle cx="412.00" cy="74.10" r="4.00" stroke="#777" stroke-width="0.55" fill="#fff"/>
<text x="412.00" y="76.48" font-size="6.6" fill="#333" text-anchor="middle" font-weight="normal" >6</text>
<circle cx="430.40" cy="74.10" r="4.00" stroke="#777" stroke-width="0.55" fill="#fff"/>
<text x="430.40" y="76.48" font-size="6.6" fill="#333" text-anchor="middle" font-weight="normal" >7</text>
<line x1="309.30" y1="85.20" x2="309.30" y2="91.50" stroke="#999" stroke-width="0.5" />
<line x1="449.00" y1="85.20" x2="449.00" y2="91.50" stroke="#999" stroke-width="0.5" />
<line x1="309.30" y1="147.30" x2="309.30" y2="152.90" stroke="#999" stroke-width="0.5" />
<line x1="449.00" y1="147.30" x2="449.00" y2="152.90" stroke="#999" stroke-width="0.5" />
<line x1="309.30" y1="91.60" x2="449.00" y2="91.60" stroke="#bbb" stroke-width="0.6" />
<line x1="309.30" y1="96.30" x2="449.00" y2="96.30" stroke="#666" stroke-width="0.9" />
<line x1="309.30" y1="98.40" x2="449.00" y2="98.40" stroke="#666" stroke-width="0.9" />
<line x1="309.30" y1="111.40" x2="449.00" y2="111.40" stroke="#666" stroke-width="0.9" />
<line x1="309.30" y1="113.30" x2="449.00" y2="113.30" stroke="#666" stroke-width="0.9" />
<line x1="309.30" y1="116.30" x2="449.00" y2="116.30" stroke="#888" stroke-width="0.6" />
<line x1="309.30" y1="129.20" x2="449.00" y2="129.20" stroke="#555" stroke-width="0.9" />
<line x1="309.30" y1="147.40" x2="449.00" y2="147.40" stroke="#999" stroke-width="0.6" />
<circle cx="399.5" cy="93.8" r="0.39" fill="#888"/>
<circle cx="411.8" cy="93.0" r="0.38" fill="#888"/>
<circle cx="315.4" cy="94.1" r="0.28" fill="#888"/>
<circle cx="342.5" cy="92.2" r="0.36" fill="#888"/>
<circle cx="311.0" cy="94.2" r="0.39" fill="#888"/>
<circle cx="329.2" cy="92.8" r="0.32" fill="#888"/>
<circle cx="380.1" cy="94.6" r="0.36" fill="#888"/>
<circle cx="333.7" cy="93.2" r="0.26" fill="#888"/>
<circle cx="316.1" cy="95.6" r="0.36" fill="#888"/>
<circle cx="409.2" cy="92.0" r="0.37" fill="#888"/>
<circle cx="413.4" cy="93.9" r="0.35" fill="#888"/>
<circle cx="372.5" cy="92.9" r="0.22" fill="#888"/>
<circle cx="341.8" cy="92.2" r="0.27" fill="#888"/>
<circle cx="414.0" cy="94.8" r="0.37" fill="#888"/>
<circle cx="408.7" cy="93.1" r="0.31" fill="#888"/>
<circle cx="370.2" cy="95.2" r="0.30" fill="#888"/>
<circle cx="346.4" cy="94.6" r="0.39" fill="#888"/>
<circle cx="339.6" cy="95.5" r="0.20" fill="#888"/>
<circle cx="345.7" cy="92.9" r="0.35" fill="#888"/>
<circle cx="441.3" cy="95.0" r="0.27" fill="#888"/>
<circle cx="432.3" cy="93.3" r="0.25" fill="#888"/>
<circle cx="436.1" cy="94.5" r="0.34" fill="#888"/>
<circle cx="402.2" cy="95.9" r="0.29" fill="#888"/>
<circle cx="426.6" cy="94.8" r="0.37" fill="#888"/>
<circle cx="370.4" cy="94.9" r="0.31" fill="#888"/>
<circle cx="352.3" cy="92.8" r="0.32" fill="#888"/>
<circle cx="320.2" cy="95.6" r="0.23" fill="#888"/>
<circle cx="313.1" cy="92.4" r="0.39" fill="#888"/>
<circle cx="357.5" cy="92.6" r="0.21" fill="#888"/>
<circle cx="315.1" cy="94.8" r="0.33" fill="#888"/>
<circle cx="406.7" cy="94.9" r="0.21" fill="#888"/>
<circle cx="391.8" cy="93.5" r="0.36" fill="#888"/>
<circle cx="423.8" cy="95.6" r="0.21" fill="#888"/>
<circle cx="430.5" cy="95.7" r="0.39" fill="#888"/>
<circle cx="324.3" cy="92.8" r="0.22" fill="#888"/>
<circle cx="314.1" cy="95.4" r="0.36" fill="#888"/>
<circle cx="397.9" cy="95.3" r="0.33" fill="#888"/>
<circle cx="349.4" cy="92.4" r="0.22" fill="#888"/>
<circle cx="415.1" cy="92.8" r="0.26" fill="#888"/>
<circle cx="368.5" cy="92.1" r="0.25" fill="#888"/>
<path d="M348.8,94.6 l1.1,-1.3 l1.1,1.3z" fill="none" stroke="#999" stroke-width="0.35"/>
<path d="M354.1,95.4 l1.2,-1.4 l1.2,1.4z" fill="none" stroke="#999" stroke-width="0.35"/>
<path d="M428.2,94.4 l0.8,-1.0 l0.8,1.0z" fill="none" stroke="#999" stroke-width="0.35"/>
<path d="M367.0,93.8 l1.3,-1.6 l1.3,1.6z" fill="none" stroke="#999" stroke-width="0.35"/>
<path d="M357.7,94.6 l1.2,-1.4 l1.2,1.4z" fill="none" stroke="#999" stroke-width="0.35"/>
<path d="M339.6,95.1 l0.9,-1.0 l0.9,1.0z" fill="none" stroke="#999" stroke-width="0.35"/>
<path d="M423.8,93.0 l0.8,-1.0 l0.8,1.0z" fill="none" stroke="#999" stroke-width="0.35"/>
<path d="M337.5,94.8 l1.5,-1.8 l1.5,1.8z" fill="none" stroke="#999" stroke-width="0.35"/>
<path d="M309.9,94.0 l1.1,-1.4 l1.1,1.4z" fill="none" stroke="#999" stroke-width="0.35"/>
<path d="M420.6,93.1 l1.1,-1.4 l1.1,1.4z" fill="none" stroke="#999" stroke-width="0.35"/>
<circle cx="357.8" cy="109.0" r="0.25" fill="#888"/>
<circle cx="441.2" cy="102.4" r="0.24" fill="#888"/>
<circle cx="407.0" cy="105.0" r="0.22" fill="#888"/>
<circle cx="398.2" cy="100.0" r="0.36" fill="#888"/>
<circle cx="406.7" cy="108.4" r="0.33" fill="#888"/>
<circle cx="359.0" cy="103.8" r="0.28" fill="#888"/>
<circle cx="433.7" cy="100.0" r="0.38" fill="#888"/>
<circle cx="312.8" cy="101.5" r="0.25" fill="#888"/>
<circle cx="435.2" cy="105.0" r="0.28" fill="#888"/>
<circle cx="432.8" cy="101.8" r="0.29" fill="#888"/>
<circle cx="383.6" cy="108.1" r="0.35" fill="#888"/>
<circle cx="399.6" cy="103.2" r="0.27" fill="#888"/>
<circle cx="331.0" cy="109.1" r="0.33" fill="#888"/>
<circle cx="413.0" cy="101.0" r="0.29" fill="#888"/>
<circle cx="417.3" cy="106.0" r="0.23" fill="#888"/>
<circle cx="373.8" cy="109.6" r="0.25" fill="#888"/>
<circle cx="336.1" cy="102.6" r="0.34" fill="#888"/>
<circle cx="427.2" cy="100.9" r="0.23" fill="#888"/>
<circle cx="343.9" cy="102.9" r="0.30" fill="#888"/>
<circle cx="331.8" cy="102.9" r="0.24" fill="#888"/>
<circle cx="445.5" cy="107.7" r="0.22" fill="#888"/>
<circle cx="443.7" cy="100.2" r="0.28" fill="#888"/>
<circle cx="446.7" cy="108.5" r="0.35" fill="#888"/>
<circle cx="370.1" cy="101.4" r="0.33" fill="#888"/>
<circle cx="324.2" cy="101.5" r="0.28" fill="#888"/>
<circle cx="314.0" cy="103.8" r="0.36" fill="#888"/>
<circle cx="406.2" cy="105.0" r="0.33" fill="#888"/>
<circle cx="374.0" cy="100.7" r="0.32" fill="#888"/>
<circle cx="365.8" cy="107.9" r="0.38" fill="#888"/>
<circle cx="369.4" cy="105.9" r="0.35" fill="#888"/>
<circle cx="368.1" cy="101.7" r="0.34" fill="#888"/>
<circle cx="432.2" cy="108.3" r="0.34" fill="#888"/>
<circle cx="428.4" cy="107.2" r="0.33" fill="#888"/>
<circle cx="372.7" cy="102.8" r="0.33" fill="#888"/>
<circle cx="323.0" cy="104.0" r="0.36" fill="#888"/>
<circle cx="408.9" cy="106.6" r="0.25" fill="#888"/>
<circle cx="368.5" cy="104.5" r="0.32" fill="#888"/>
<circle cx="366.5" cy="107.1" r="0.39" fill="#888"/>
<circle cx="334.9" cy="106.9" r="0.36" fill="#888"/>
<circle cx="363.6" cy="104.9" r="0.39" fill="#888"/>
<circle cx="314.6" cy="105.5" r="0.23" fill="#888"/>
<circle cx="418.5" cy="110.3" r="0.30" fill="#888"/>
<circle cx="323.4" cy="105.9" r="0.31" fill="#888"/>
<circle cx="409.5" cy="105.1" r="0.33" fill="#888"/>
<circle cx="425.1" cy="105.3" r="0.28" fill="#888"/>
<circle cx="441.7" cy="101.5" r="0.34" fill="#888"/>
<circle cx="364.1" cy="108.2" r="0.22" fill="#888"/>
<circle cx="446.8" cy="103.3" r="0.21" fill="#888"/>
<circle cx="347.6" cy="103.8" r="0.20" fill="#888"/>
<circle cx="367.8" cy="104.0" r="0.34" fill="#888"/>
<circle cx="358.5" cy="102.2" r="0.24" fill="#888"/>
<circle cx="412.9" cy="110.3" r="0.31" fill="#888"/>
<circle cx="339.9" cy="108.6" r="0.28" fill="#888"/>
<circle cx="338.9" cy="100.6" r="0.36" fill="#888"/>
<circle cx="422.4" cy="106.6" r="0.29" fill="#888"/>
<circle cx="387.8" cy="101.7" r="0.39" fill="#888"/>
<circle cx="358.6" cy="106.7" r="0.36" fill="#888"/>
<circle cx="423.3" cy="104.6" r="0.26" fill="#888"/>
<circle cx="385.9" cy="100.5" r="0.37" fill="#888"/>
<circle cx="358.9" cy="109.2" r="0.25" fill="#888"/>
<circle cx="361.8" cy="102.0" r="0.29" fill="#888"/>
<circle cx="335.3" cy="99.0" r="0.34" fill="#888"/>
<circle cx="348.6" cy="101.9" r="0.26" fill="#888"/>
<circle cx="376.3" cy="104.1" r="0.33" fill="#888"/>
<circle cx="401.4" cy="103.3" r="0.39" fill="#888"/>
<circle cx="428.7" cy="99.7" r="0.37" fill="#888"/>
<circle cx="435.8" cy="108.4" r="0.23" fill="#888"/>
<circle cx="425.4" cy="106.6" r="0.20" fill="#888"/>
<circle cx="310.9" cy="110.4" r="0.33" fill="#888"/>
<circle cx="344.2" cy="100.2" r="0.23" fill="#888"/>
<circle cx="341.9" cy="108.3" r="0.27" fill="#888"/>
<circle cx="330.6" cy="109.8" r="0.36" fill="#888"/>
<circle cx="332.8" cy="109.7" r="0.32" fill="#888"/>
<circle cx="418.4" cy="107.0" r="0.38" fill="#888"/>
<circle cx="419.4" cy="109.1" r="0.24" fill="#888"/>
<circle cx="406.1" cy="105.4" r="0.35" fill="#888"/>
<circle cx="370.6" cy="109.6" r="0.31" fill="#888"/>
<circle cx="346.2" cy="101.8" r="0.23" fill="#888"/>
<circle cx="378.2" cy="99.7" r="0.29" fill="#888"/>
<circle cx="329.5" cy="104.9" r="0.30" fill="#888"/>
<circle cx="384.7" cy="109.4" r="0.20" fill="#888"/>
<circle cx="426.8" cy="104.6" r="0.31" fill="#888"/>
<circle cx="402.2" cy="109.1" r="0.27" fill="#888"/>
<circle cx="367.8" cy="110.5" r="0.22" fill="#888"/>
<circle cx="398.3" cy="106.6" r="0.21" fill="#888"/>
<circle cx="394.5" cy="107.2" r="0.39" fill="#888"/>
<circle cx="355.5" cy="110.8" r="0.30" fill="#888"/>
<circle cx="377.0" cy="109.8" r="0.21" fill="#888"/>
<circle cx="409.6" cy="106.5" r="0.27" fill="#888"/>
<circle cx="429.7" cy="103.4" r="0.29" fill="#888"/>
<circle cx="382.7" cy="108.2" r="0.24" fill="#888"/>
<circle cx="370.1" cy="104.1" r="0.31" fill="#888"/>
<circle cx="424.8" cy="102.5" r="0.37" fill="#888"/>
<circle cx="365.7" cy="105.0" r="0.25" fill="#888"/>
<circle cx="380.0" cy="110.7" r="0.33" fill="#888"/>
<circle cx="419.9" cy="103.0" r="0.26" fill="#888"/>
<circle cx="351.1" cy="106.0" r="0.33" fill="#888"/>
<circle cx="418.9" cy="99.5" r="0.34" fill="#888"/>
<circle cx="433.0" cy="105.5" r="0.21" fill="#888"/>
<circle cx="351.3" cy="99.1" r="0.24" fill="#888"/>
<circle cx="438.0" cy="106.3" r="0.33" fill="#888"/>
<circle cx="419.5" cy="109.9" r="0.32" fill="#888"/>
<circle cx="395.5" cy="106.5" r="0.34" fill="#888"/>
<circle cx="392.6" cy="107.2" r="0.24" fill="#888"/>
<circle cx="402.5" cy="104.5" r="0.35" fill="#888"/>
<circle cx="323.5" cy="101.2" r="0.21" fill="#888"/>
<circle cx="417.5" cy="110.0" r="0.33" fill="#888"/>
<circle cx="360.8" cy="108.9" r="0.36" fill="#888"/>
<circle cx="387.8" cy="102.1" r="0.26" fill="#888"/>
<circle cx="368.2" cy="102.8" r="0.29" fill="#888"/>
<path d="M399.0,109.3 l0.8,-1.0 l0.8,1.0z" fill="none" stroke="#888" stroke-width="0.35"/>
<path d="M388.6,100.4 l0.9,-1.1 l0.9,1.1z" fill="none" stroke="#888" stroke-width="0.35"/>
<path d="M422.5,105.8 l1.4,-1.7 l1.4,1.7z" fill="none" stroke="#888" stroke-width="0.35"/>
<path d="M371.7,100.1 l1.1,-1.3 l1.1,1.3z" fill="none" stroke="#888" stroke-width="0.35"/>
<path d="M392.0,109.4 l1.5,-1.8 l1.5,1.8z" fill="none" stroke="#888" stroke-width="0.35"/>
<path d="M375.7,104.1 l0.9,-1.0 l0.9,1.0z" fill="none" stroke="#888" stroke-width="0.35"/>
<path d="M399.3,102.1 l0.9,-1.1 l0.9,1.1z" fill="none" stroke="#888" stroke-width="0.35"/>
<path d="M311.5,100.0 l1.3,-1.5 l1.3,1.5z" fill="none" stroke="#888" stroke-width="0.35"/>
<path d="M326.3,109.7 l0.9,-1.0 l0.9,1.0z" fill="none" stroke="#888" stroke-width="0.35"/>
<path d="M430.8,101.3 l0.8,-1.0 l0.8,1.0z" fill="none" stroke="#888" stroke-width="0.35"/>
<path d="M409.8,102.4 l1.3,-1.6 l1.3,1.6z" fill="none" stroke="#888" stroke-width="0.35"/>
<path d="M335.5,100.5 l1.3,-1.6 l1.3,1.6z" fill="none" stroke="#888" stroke-width="0.35"/>
<path d="M409.0,108.6 l1.3,-1.6 l1.3,1.6z" fill="none" stroke="#888" stroke-width="0.35"/>
<path d="M321.1,106.3 l1.3,-1.6 l1.3,1.6z" fill="none" stroke="#888" stroke-width="0.35"/>
<path d="M373.6,109.3 l1.0,-1.2 l1.0,1.2z" fill="none" stroke="#888" stroke-width="0.35"/>
<path d="M444.0,107.2 l0.8,-1.0 l0.8,1.0z" fill="none" stroke="#888" stroke-width="0.35"/>
<path d="M311.4,106.5 l1.4,-1.6 l1.4,1.6z" fill="none" stroke="#888" stroke-width="0.35"/>
<path d="M320.4,103.1 l1.3,-1.6 l1.3,1.6z" fill="none" stroke="#888" stroke-width="0.35"/>
<path d="M332.5,108.6 l1.1,-1.4 l1.1,1.4z" fill="none" stroke="#888" stroke-width="0.35"/>
<path d="M317.7,103.7 l1.2,-1.4 l1.2,1.4z" fill="none" stroke="#888" stroke-width="0.35"/>
<path d="M370.6,106.8 l0.9,-1.1 l0.9,1.1z" fill="none" stroke="#888" stroke-width="0.35"/>
<path d="M420.7,103.6 l1.3,-1.5 l1.3,1.5z" fill="none" stroke="#888" stroke-width="0.35"/>
<ellipse cx="363.6" cy="107.8" rx="1.72" ry="1.28" fill="none" stroke="#888" stroke-width="0.45"/>
<ellipse cx="388.2" cy="103.6" rx="2.13" ry="1.86" fill="none" stroke="#888" stroke-width="0.45"/>
<ellipse cx="407.1" cy="108.4" rx="0.98" ry="0.92" fill="none" stroke="#888" stroke-width="0.45"/>
<ellipse cx="444.6" cy="108.3" rx="1.33" ry="1.08" fill="none" stroke="#888" stroke-width="0.45"/>
<ellipse cx="369.4" cy="108.8" rx="1.68" ry="1.19" fill="none" stroke="#888" stroke-width="0.45"/>
<ellipse cx="393.1" cy="108.9" rx="1.39" ry="1.17" fill="none" stroke="#888" stroke-width="0.45"/>
<ellipse cx="311.5" cy="103.2" rx="1.95" ry="1.36" fill="none" stroke="#888" stroke-width="0.45"/>
<ellipse cx="422.4" cy="108.8" rx="1.45" ry="1.17" fill="none" stroke="#888" stroke-width="0.45"/>
<ellipse cx="422.1" cy="108.8" rx="0.95" ry="0.85" fill="none" stroke="#888" stroke-width="0.45"/>
<ellipse cx="427.1" cy="108.1" rx="1.64" ry="1.14" fill="none" stroke="#888" stroke-width="0.45"/>
<ellipse cx="358.3" cy="101.8" rx="1.79" ry="1.65" fill="none" stroke="#888" stroke-width="0.45"/>
<ellipse cx="338.3" cy="107.4" rx="1.62" ry="1.42" fill="none" stroke="#888" stroke-width="0.45"/>
<ellipse cx="393.6" cy="106.8" rx="2.11" ry="1.44" fill="none" stroke="#888" stroke-width="0.45"/>
<ellipse cx="345.6" cy="107.6" rx="1.50" ry="1.01" fill="none" stroke="#888" stroke-width="0.45"/>
<ellipse cx="323.1" cy="107.9" rx="1.93" ry="1.47" fill="none" stroke="#888" stroke-width="0.45"/>
<ellipse cx="390.0" cy="108.8" rx="1.90" ry="1.30" fill="none" stroke="#888" stroke-width="0.45"/>
<ellipse cx="376.0" cy="106.0" rx="2.05" ry="1.60" fill="none" stroke="#888" stroke-width="0.45"/>
<ellipse cx="335.3" cy="107.3" rx="1.15" ry="0.76" fill="none" stroke="#888" stroke-width="0.45"/>
<ellipse cx="365.8" cy="105.4" rx="1.37" ry="1.09" fill="none" stroke="#888" stroke-width="0.45"/>
<ellipse cx="447.5" cy="104.0" rx="1.09" ry="0.67" fill="none" stroke="#888" stroke-width="0.45"/>
<ellipse cx="418.7" cy="101.9" rx="1.04" ry="0.85" fill="none" stroke="#888" stroke-width="0.45"/>
<ellipse cx="381.8" cy="100.9" rx="1.68" ry="1.21" fill="none" stroke="#888" stroke-width="0.45"/>
<ellipse cx="429.6" cy="105.1" rx="0.94" ry="0.89" fill="none" stroke="#888" stroke-width="0.45"/>
<ellipse cx="417.2" cy="104.6" rx="1.64" ry="1.13" fill="none" stroke="#888" stroke-width="0.45"/>
<ellipse cx="422.3" cy="108.9" rx="2.13" ry="1.85" fill="none" stroke="#888" stroke-width="0.45"/>
<ellipse cx="338.1" cy="102.1" rx="1.23" ry="0.75" fill="none" stroke="#888" stroke-width="0.45"/>
<circle cx="323.7" cy="102.5" r="0.83" fill="none" stroke="#888" stroke-width="0.4"/>
<circle cx="325.1" cy="102.6" r="0.63" fill="none" stroke="#888" stroke-width="0.4"/>
<circle cx="323.8" cy="101.1" r="0.66" fill="none" stroke="#888" stroke-width="0.4"/>
<circle cx="440.8" cy="103.5" r="1.08" fill="none" stroke="#888" stroke-width="0.4"/>
<circle cx="441.2" cy="102.7" r="0.82" fill="none" stroke="#888" stroke-width="0.4"/>
<circle cx="439.3" cy="104.5" r="1.10" fill="none" stroke="#888" stroke-width="0.4"/>
<circle cx="341.1" cy="100.9" r="1.05" fill="none" stroke="#888" stroke-width="0.4"/>
<circle cx="343.4" cy="102.3" r="0.62" fill="none" stroke="#888" stroke-width="0.4"/>
<circle cx="343.0" cy="101.9" r="0.92" fill="none" stroke="#888" stroke-width="0.4"/>
<circle cx="442.8" cy="102.2" r="1.07" fill="none" stroke="#888" stroke-width="0.4"/>
<circle cx="444.7" cy="100.8" r="0.90" fill="none" stroke="#888" stroke-width="0.4"/>
<circle cx="445.0" cy="100.3" r="0.76" fill="none" stroke="#888" stroke-width="0.4"/>
<circle cx="346.6" cy="101.0" r="0.72" fill="none" stroke="#888" stroke-width="0.4"/>
<circle cx="345.4" cy="102.5" r="0.61" fill="none" stroke="#888" stroke-width="0.4"/>
<circle cx="347.4" cy="101.1" r="0.62" fill="none" stroke="#888" stroke-width="0.4"/>
<circle cx="437.9" cy="103.9" r="1.04" fill="none" stroke="#888" stroke-width="0.4"/>
<circle cx="435.0" cy="102.6" r="0.65" fill="none" stroke="#888" stroke-width="0.4"/>
<circle cx="437.9" cy="103.8" r="0.91" fill="none" stroke="#888" stroke-width="0.4"/>
<circle cx="373.9" cy="103.7" r="0.91" fill="none" stroke="#888" stroke-width="0.4"/>
<circle cx="371.5" cy="102.9" r="0.63" fill="none" stroke="#888" stroke-width="0.4"/>
<circle cx="373.5" cy="103.9" r="0.67" fill="none" stroke="#888" stroke-width="0.4"/>
<circle cx="428.4" cy="102.1" r="0.74" fill="none" stroke="#888" stroke-width="0.4"/>
<circle cx="429.9" cy="102.6" r="0.68" fill="none" stroke="#888" stroke-width="0.4"/>
<circle cx="428.7" cy="102.6" r="1.05" fill="none" stroke="#888" stroke-width="0.4"/>
<circle cx="326.0" cy="110.0" r="0.93" fill="none" stroke="#888" stroke-width="0.4"/>
<circle cx="326.5" cy="108.8" r="0.74" fill="none" stroke="#888" stroke-width="0.4"/>
<circle cx="326.7" cy="107.9" r="0.78" fill="none" stroke="#888" stroke-width="0.4"/>
<circle cx="446.3" cy="107.8" r="0.74" fill="none" stroke="#888" stroke-width="0.4"/>
<circle cx="446.2" cy="107.7" r="0.96" fill="none" stroke="#888" stroke-width="0.4"/>
<circle cx="444.1" cy="110.4" r="0.61" fill="none" stroke="#888" stroke-width="0.4"/>
<circle cx="418.9" cy="102.2" r="1.02" fill="none" stroke="#888" stroke-width="0.4"/>
<circle cx="420.3" cy="102.8" r="0.82" fill="none" stroke="#888" stroke-width="0.4"/>
<circle cx="421.7" cy="102.9" r="0.89" fill="none" stroke="#888" stroke-width="0.4"/>
<circle cx="331.7" cy="103.1" r="0.70" fill="none" stroke="#888" stroke-width="0.4"/>
<circle cx="329.2" cy="101.2" r="0.90" fill="none" stroke="#888" stroke-width="0.4"/>
<circle cx="330.7" cy="101.8" r="0.70" fill="none" stroke="#888" stroke-width="0.4"/>
<circle cx="395.3" cy="106.9" r="0.70" fill="none" stroke="#888" stroke-width="0.4"/>
<circle cx="392.6" cy="107.4" r="0.80" fill="none" stroke="#888" stroke-width="0.4"/>
<circle cx="395.0" cy="105.3" r="1.01" fill="none" stroke="#888" stroke-width="0.4"/>
<circle cx="358.4" cy="107.7" r="0.61" fill="none" stroke="#888" stroke-width="0.4"/>
<circle cx="358.6" cy="107.7" r="1.04" fill="none" stroke="#888" stroke-width="0.4"/>
<circle cx="356.3" cy="106.8" r="1.02" fill="none" stroke="#888" stroke-width="0.4"/>
<circle cx="360.9" cy="102.6" r="0.60" fill="none" stroke="#888" stroke-width="0.4"/>
<circle cx="361.5" cy="102.1" r="0.86" fill="none" stroke="#888" stroke-width="0.4"/>
<circle cx="360.0" cy="103.0" r="1.01" fill="none" stroke="#888" stroke-width="0.4"/>
<circle cx="428.8" cy="103.2" r="0.98" fill="none" stroke="#888" stroke-width="0.4"/>
<circle cx="426.4" cy="104.7" r="1.08" fill="none" stroke="#888" stroke-width="0.4"/>
<circle cx="428.0" cy="103.6" r="0.87" fill="none" stroke="#888" stroke-width="0.4"/>
<circle cx="384.4" cy="114.0" r="0.39" fill="#888"/>
<circle cx="340.6" cy="114.4" r="0.22" fill="#888"/>
<circle cx="344.3" cy="115.6" r="0.21" fill="#888"/>
<circle cx="322.8" cy="115.4" r="0.24" fill="#888"/>
<circle cx="311.8" cy="115.2" r="0.32" fill="#888"/>
<circle cx="382.4" cy="115.4" r="0.22" fill="#888"/>
<circle cx="430.8" cy="115.4" r="0.21" fill="#888"/>
<circle cx="326.5" cy="115.0" r="0.30" fill="#888"/>
<circle cx="348.4" cy="114.2" r="0.28" fill="#888"/>
<circle cx="328.4" cy="115.2" r="0.37" fill="#888"/>
<circle cx="329.9" cy="115.1" r="0.35" fill="#888"/>
<circle cx="332.3" cy="115.7" r="0.39" fill="#888"/>
<circle cx="363.6" cy="114.8" r="0.37" fill="#888"/>
<circle cx="382.7" cy="114.8" r="0.39" fill="#888"/>
<circle cx="417.8" cy="114.7" r="0.25" fill="#888"/>
<circle cx="356.1" cy="114.9" r="0.40" fill="#888"/>
<circle cx="421.7" cy="115.8" r="0.36" fill="#888"/>
<circle cx="427.7" cy="114.1" r="0.30" fill="#888"/>
<circle cx="443.1" cy="115.9" r="0.25" fill="#888"/>
<circle cx="368.3" cy="115.3" r="0.27" fill="#888"/>
<circle cx="383.5" cy="117.8" r="0.29" fill="#888"/>
<circle cx="379.8" cy="117.2" r="0.23" fill="#888"/>
<circle cx="444.8" cy="126.3" r="0.39" fill="#888"/>
<circle cx="397.8" cy="126.7" r="0.38" fill="#888"/>
<circle cx="432.9" cy="117.4" r="0.33" fill="#888"/>
<circle cx="346.4" cy="125.1" r="0.25" fill="#888"/>
<circle cx="385.1" cy="128.1" r="0.32" fill="#888"/>
<circle cx="344.3" cy="123.2" r="0.29" fill="#888"/>
<circle cx="442.1" cy="120.5" r="0.26" fill="#888"/>
<circle cx="399.8" cy="118.4" r="0.32" fill="#888"/>
<circle cx="442.9" cy="123.2" r="0.25" fill="#888"/>
<circle cx="374.5" cy="123.4" r="0.23" fill="#888"/>
<circle cx="326.6" cy="118.6" r="0.26" fill="#888"/>
<circle cx="366.1" cy="120.5" r="0.25" fill="#888"/>
<circle cx="321.6" cy="123.6" r="0.37" fill="#888"/>
<circle cx="394.5" cy="123.8" r="0.33" fill="#888"/>
<circle cx="337.4" cy="125.5" r="0.29" fill="#888"/>
<circle cx="385.9" cy="124.4" r="0.29" fill="#888"/>
<circle cx="352.7" cy="119.9" r="0.24" fill="#888"/>
<circle cx="380.9" cy="121.6" r="0.32" fill="#888"/>
<circle cx="311.0" cy="121.2" r="0.37" fill="#888"/>
<circle cx="342.6" cy="123.7" r="0.30" fill="#888"/>
<circle cx="349.1" cy="128.9" r="0.26" fill="#888"/>
<circle cx="417.2" cy="118.9" r="0.21" fill="#888"/>
<circle cx="431.0" cy="122.3" r="0.21" fill="#888"/>
<circle cx="363.5" cy="122.3" r="0.35" fill="#888"/>
<circle cx="324.6" cy="119.7" r="0.39" fill="#888"/>
<circle cx="412.5" cy="118.9" r="0.27" fill="#888"/>
<circle cx="358.5" cy="125.1" r="0.32" fill="#888"/>
<circle cx="428.0" cy="126.9" r="0.30" fill="#888"/>
<circle cx="412.5" cy="125.9" r="0.35" fill="#888"/>
<circle cx="375.7" cy="126.4" r="0.34" fill="#888"/>
<circle cx="437.1" cy="118.5" r="0.37" fill="#888"/>
<circle cx="309.9" cy="126.2" r="0.32" fill="#888"/>
<circle cx="378.9" cy="128.6" r="0.31" fill="#888"/>
<circle cx="367.7" cy="126.4" r="0.37" fill="#888"/>
<circle cx="394.1" cy="121.6" r="0.29" fill="#888"/>
<circle cx="373.3" cy="125.7" r="0.26" fill="#888"/>
<circle cx="363.9" cy="123.7" r="0.28" fill="#888"/>
<circle cx="354.3" cy="126.4" r="0.37" fill="#888"/>
<circle cx="379.1" cy="122.3" r="0.24" fill="#888"/>
<circle cx="351.8" cy="118.7" r="0.32" fill="#888"/>
<circle cx="390.5" cy="118.1" r="0.38" fill="#888"/>
<circle cx="354.5" cy="127.1" r="0.37" fill="#888"/>
<circle cx="443.2" cy="119.5" r="0.29" fill="#888"/>
<circle cx="436.5" cy="117.1" r="0.21" fill="#888"/>
<circle cx="388.2" cy="123.0" r="0.38" fill="#888"/>
<circle cx="417.4" cy="123.5" r="0.40" fill="#888"/>
<circle cx="381.6" cy="123.2" r="0.34" fill="#888"/>
<circle cx="363.7" cy="121.3" r="0.32" fill="#888"/>
<circle cx="358.3" cy="128.4" r="0.34" fill="#888"/>
<circle cx="382.7" cy="118.2" r="0.27" fill="#888"/>
<circle cx="365.3" cy="123.7" r="0.31" fill="#888"/>
<circle cx="432.2" cy="128.6" r="0.30" fill="#888"/>
<circle cx="370.8" cy="124.5" r="0.40" fill="#888"/>
<circle cx="357.3" cy="123.4" r="0.36" fill="#888"/>
<circle cx="333.1" cy="120.8" r="0.40" fill="#888"/>
<circle cx="424.7" cy="123.2" r="0.22" fill="#888"/>
<circle cx="434.3" cy="125.3" r="0.36" fill="#888"/>
<circle cx="447.6" cy="127.7" r="0.28" fill="#888"/>
<circle cx="331.1" cy="120.5" r="0.30" fill="#888"/>
<circle cx="379.8" cy="119.3" r="0.24" fill="#888"/>
<circle cx="397.3" cy="124.2" r="0.27" fill="#888"/>
<circle cx="448.1" cy="124.6" r="0.21" fill="#888"/>
<circle cx="366.8" cy="126.5" r="0.26" fill="#888"/>
<circle cx="405.8" cy="117.0" r="0.26" fill="#888"/>
<circle cx="426.9" cy="124.0" r="0.33" fill="#888"/>
<circle cx="336.8" cy="123.0" r="0.31" fill="#888"/>
<circle cx="346.5" cy="124.8" r="0.31" fill="#888"/>
<circle cx="448.6" cy="123.9" r="0.28" fill="#888"/>
<defs><clipPath id="mid"><rect x="309.3" y="116.4" width="139.7" height="12.6"/></clipPath></defs><g clip-path="url(#mid)">
<ellipse cx="415.9" cy="119.4" rx="1.56" ry="0.93" fill="#fff" stroke="#888" stroke-width="0.5"/>
<ellipse cx="382.3" cy="125.5" rx="1.50" ry="0.90" fill="#fff" stroke="#888" stroke-width="0.5"/>
<ellipse cx="317.1" cy="118.6" rx="3.04" ry="2.41" fill="#fff" stroke="#888" stroke-width="0.5"/>
<ellipse cx="409.7" cy="121.5" rx="3.51" ry="2.27" fill="#fff" stroke="#888" stroke-width="0.5"/>
<ellipse cx="322.4" cy="126.2" rx="1.71" ry="1.08" fill="#fff" stroke="#888" stroke-width="0.5"/>
<ellipse cx="372.0" cy="121.8" rx="2.95" ry="1.93" fill="#fff" stroke="#888" stroke-width="0.5"/>
<ellipse cx="390.9" cy="126.7" rx="1.36" ry="1.11" fill="#fff" stroke="#888" stroke-width="0.5"/>
<ellipse cx="343.6" cy="118.9" rx="2.52" ry="1.85" fill="#fff" stroke="#888" stroke-width="0.5"/>
<ellipse cx="352.9" cy="126.1" rx="3.99" ry="3.22" fill="#fff" stroke="#888" stroke-width="0.5"/>
<ellipse cx="446.0" cy="121.0" rx="2.28" ry="1.38" fill="#fff" stroke="#888" stroke-width="0.5"/>
<ellipse cx="383.9" cy="121.8" rx="2.88" ry="1.69" fill="#fff" stroke="#888" stroke-width="0.5"/>
<ellipse cx="335.4" cy="120.9" rx="2.25" ry="1.41" fill="#fff" stroke="#888" stroke-width="0.5"/>
<ellipse cx="402.4" cy="121.4" rx="1.91" ry="1.07" fill="#fff" stroke="#888" stroke-width="0.5"/>
<ellipse cx="337.8" cy="126.6" rx="2.33" ry="1.95" fill="#fff" stroke="#888" stroke-width="0.5"/>
<ellipse cx="435.8" cy="123.5" rx="3.32" ry="2.09" fill="#fff" stroke="#888" stroke-width="0.5"/>
<ellipse cx="394.5" cy="120.3" rx="2.30" ry="1.44" fill="#fff" stroke="#888" stroke-width="0.5"/>
<ellipse cx="362.8" cy="124.1" rx="2.01" ry="1.57" fill="#fff" stroke="#888" stroke-width="0.5"/>
<ellipse cx="363.6" cy="119.2" rx="2.90" ry="1.87" fill="#fff" stroke="#888" stroke-width="0.5"/>
<ellipse cx="352.4" cy="120.4" rx="2.09" ry="1.19" fill="#fff" stroke="#888" stroke-width="0.5"/>
<ellipse cx="312.5" cy="124.3" rx="1.60" ry="1.01" fill="#fff" stroke="#888" stroke-width="0.5"/>
<ellipse cx="416.9" cy="125.6" rx="3.00" ry="2.06" fill="#fff" stroke="#888" stroke-width="0.5"/>
<ellipse cx="427.3" cy="121.0" rx="1.28" ry="1.00" fill="#fff" stroke="#888" stroke-width="0.5"/>
<ellipse cx="428.1" cy="126.4" rx="1.76" ry="1.30" fill="#fff" stroke="#888" stroke-width="0.5"/>
<ellipse cx="402.7" cy="125.5" rx="2.22" ry="1.51" fill="#fff" stroke="#888" stroke-width="0.5"/>
</g>
<defs><clipPath id="grav"><rect x="309.3" y="129.5" width="139.7" height="17.8"/></clipPath></defs><g clip-path="url(#grav)">
<ellipse cx="350.2" cy="137.6" rx="5.18" ry="3.11" fill="#fff" stroke="#808080" stroke-width="0.55"/>
<ellipse cx="336.0" cy="131.9" rx="4.06" ry="2.66" fill="#fff" stroke="#808080" stroke-width="0.55"/>
<ellipse cx="445.9" cy="145.0" rx="3.27" ry="2.25" fill="#fff" stroke="#808080" stroke-width="0.55"/>
<ellipse cx="404.2" cy="140.2" rx="4.88" ry="2.77" fill="#fff" stroke="#808080" stroke-width="0.55"/>
<ellipse cx="443.3" cy="138.2" rx="3.18" ry="2.29" fill="#fff" stroke="#808080" stroke-width="0.55"/>
<ellipse cx="357.0" cy="144.7" rx="4.34" ry="2.77" fill="#fff" stroke="#808080" stroke-width="0.55"/>
<ellipse cx="361.0" cy="139.8" rx="2.48" ry="1.86" fill="#fff" stroke="#808080" stroke-width="0.55"/>
<ellipse cx="388.3" cy="136.8" rx="3.57" ry="2.53" fill="#fff" stroke="#808080" stroke-width="0.55"/>
<ellipse cx="434.4" cy="139.3" rx="2.58" ry="1.56" fill="#fff" stroke="#808080" stroke-width="0.55"/>
<ellipse cx="344.2" cy="132.0" rx="2.57" ry="2.08" fill="#fff" stroke="#808080" stroke-width="0.55"/>
<ellipse cx="377.6" cy="139.4" rx="3.95" ry="2.47" fill="#fff" stroke="#808080" stroke-width="0.55"/>
<ellipse cx="324.3" cy="138.7" rx="2.95" ry="2.13" fill="#fff" stroke="#808080" stroke-width="0.55"/>
<ellipse cx="366.1" cy="131.7" rx="4.14" ry="2.38" fill="#fff" stroke="#808080" stroke-width="0.55"/>
<ellipse cx="418.1" cy="132.7" rx="5.37" ry="3.86" fill="#fff" stroke="#808080" stroke-width="0.55"/>
<ellipse cx="386.1" cy="143.3" rx="4.19" ry="2.43" fill="#fff" stroke="#808080" stroke-width="0.55"/>
<ellipse cx="404.0" cy="134.6" rx="2.57" ry="2.13" fill="#fff" stroke="#808080" stroke-width="0.55"/>
<ellipse cx="427.1" cy="139.8" rx="2.84" ry="1.94" fill="#fff" stroke="#808080" stroke-width="0.55"/>
<ellipse cx="323.9" cy="143.3" rx="2.57" ry="1.43" fill="#fff" stroke="#808080" stroke-width="0.55"/>
<ellipse cx="442.7" cy="130.7" rx="4.48" ry="3.55" fill="#fff" stroke="#808080" stroke-width="0.55"/>
<ellipse cx="334.1" cy="143.6" rx="4.84" ry="2.71" fill="#fff" stroke="#808080" stroke-width="0.55"/>
<ellipse cx="375.7" cy="133.0" rx="4.44" ry="2.97" fill="#fff" stroke="#808080" stroke-width="0.55"/>
<ellipse cx="355.6" cy="130.8" rx="2.22" ry="1.61" fill="#fff" stroke="#808080" stroke-width="0.55"/>
<ellipse cx="314.7" cy="132.8" rx="3.72" ry="3.14" fill="#fff" stroke="#808080" stroke-width="0.55"/>
<ellipse cx="421.0" cy="144.5" rx="3.40" ry="2.16" fill="#fff" stroke="#808080" stroke-width="0.55"/>
<ellipse cx="369.0" cy="144.4" rx="3.38" ry="2.64" fill="#fff" stroke="#808080" stroke-width="0.55"/>
<ellipse cx="435.7" cy="134.9" rx="2.42" ry="1.69" fill="#fff" stroke="#808080" stroke-width="0.55"/>
<ellipse cx="314.7" cy="140.5" rx="2.39" ry="1.61" fill="#fff" stroke="#808080" stroke-width="0.55"/>
<ellipse cx="327.0" cy="130.6" rx="3.93" ry="3.27" fill="#fff" stroke="#808080" stroke-width="0.55"/>
<ellipse cx="412.8" cy="145.2" rx="2.69" ry="1.62" fill="#fff" stroke="#808080" stroke-width="0.55"/>
<ellipse cx="415.9" cy="140.8" rx="2.96" ry="1.81" fill="#fff" stroke="#808080" stroke-width="0.55"/>
<ellipse cx="430.7" cy="146.4" rx="5.05" ry="3.05" fill="#fff" stroke="#808080" stroke-width="0.55"/>
<ellipse cx="311.1" cy="146.4" rx="3.62" ry="2.11" fill="#fff" stroke="#808080" stroke-width="0.55"/>
<ellipse cx="366.1" cy="139.4" rx="2.34" ry="1.65" fill="#fff" stroke="#808080" stroke-width="0.55"/>
<ellipse cx="406.1" cy="146.2" rx="4.00" ry="2.86" fill="#fff" stroke="#808080" stroke-width="0.55"/>
<ellipse cx="345.8" cy="145.0" rx="2.94" ry="2.15" fill="#fff" stroke="#808080" stroke-width="0.55"/>
<ellipse cx="398.9" cy="131.3" rx="2.39" ry="1.63" fill="#fff" stroke="#808080" stroke-width="0.55"/>
<ellipse cx="340.0" cy="139.2" rx="3.45" ry="2.56" fill="#fff" stroke="#808080" stroke-width="0.55"/>
<ellipse cx="411.5" cy="137.4" rx="2.51" ry="1.73" fill="#fff" stroke="#808080" stroke-width="0.55"/>
<ellipse cx="428.1" cy="134.1" rx="3.09" ry="2.53" fill="#fff" stroke="#808080" stroke-width="0.55"/>
<ellipse cx="350.6" cy="131.6" rx="2.79" ry="2.19" fill="#fff" stroke="#808080" stroke-width="0.55"/>
<ellipse cx="331.5" cy="139.1" rx="2.59" ry="1.79" fill="#fff" stroke="#808080" stroke-width="0.55"/>
<ellipse cx="378.1" cy="145.0" rx="3.71" ry="2.30" fill="#fff" stroke="#808080" stroke-width="0.55"/>
<ellipse cx="394.8" cy="144.8" rx="2.94" ry="2.40" fill="#fff" stroke="#808080" stroke-width="0.55"/>
<ellipse cx="397.8" cy="136.5" rx="3.39" ry="2.54" fill="#fff" stroke="#808080" stroke-width="0.55"/>
<ellipse cx="390.0" cy="131.2" rx="2.68" ry="1.94" fill="#fff" stroke="#808080" stroke-width="0.55"/>
<ellipse cx="448.8" cy="135.4" rx="2.74" ry="2.03" fill="#fff" stroke="#808080" stroke-width="0.55"/>
<ellipse cx="359.5" cy="132.8" rx="2.42" ry="1.34" fill="#fff" stroke="#808080" stroke-width="0.55"/>
<ellipse cx="363.2" cy="135.9" rx="2.51" ry="1.74" fill="#fff" stroke="#808080" stroke-width="0.55"/>
<ellipse cx="370.6" cy="136.9" rx="2.59" ry="2.13" fill="#fff" stroke="#808080" stroke-width="0.55"/>
<ellipse cx="318.6" cy="145.7" rx="3.50" ry="2.25" fill="#fff" stroke="#808080" stroke-width="0.55"/>
<ellipse cx="310.1" cy="137.6" rx="2.96" ry="2.38" fill="#fff" stroke="#808080" stroke-width="0.55"/>
<ellipse cx="383.2" cy="133.3" rx="2.59" ry="1.54" fill="#fff" stroke="#808080" stroke-width="0.55"/>
<ellipse cx="409.4" cy="132.6" rx="2.21" ry="1.28" fill="#fff" stroke="#808080" stroke-width="0.55"/>
<ellipse cx="319.1" cy="136.7" rx="2.36" ry="1.36" fill="#fff" stroke="#808080" stroke-width="0.55"/>
<ellipse cx="421.1" cy="139.2" rx="2.55" ry="1.60" fill="#fff" stroke="#808080" stroke-width="0.55"/>
<ellipse cx="432.9" cy="131.2" rx="2.54" ry="2.01" fill="#fff" stroke="#808080" stroke-width="0.55"/>
<ellipse cx="437.9" cy="143.6" rx="2.28" ry="1.36" fill="#fff" stroke="#808080" stroke-width="0.55"/>
<ellipse cx="392.5" cy="140.4" rx="2.88" ry="1.75" fill="#fff" stroke="#808080" stroke-width="0.55"/>
<ellipse cx="339.9" cy="146.5" rx="2.27" ry="1.72" fill="#fff" stroke="#808080" stroke-width="0.55"/>
<ellipse cx="326.5" cy="146.4" rx="2.26" ry="1.76" fill="#fff" stroke="#808080" stroke-width="0.55"/>
<ellipse cx="350.7" cy="142.7" rx="2.22" ry="1.82" fill="#fff" stroke="#808080" stroke-width="0.55"/>
<ellipse cx="308.3" cy="141.9" rx="2.22" ry="1.46" fill="#fff" stroke="#808080" stroke-width="0.55"/>
<ellipse cx="449.8" cy="140.0" rx="2.60" ry="1.80" fill="#fff" stroke="#808080" stroke-width="0.55"/>
</g>
<line x1="368.10" y1="43.00" x2="368.10" y2="90.50" stroke="#444" stroke-width="1.1" />
<line x1="380.00" y1="43.00" x2="380.00" y2="90.50" stroke="#444" stroke-width="1.1" />
<rect x="361.30" y="90.20" width="25.40" height="1.50" stroke="none" stroke-width="0" fill="#555" />
<path d="M365.5,91.5 L365.5,108 Q365.5,111.2 369.1,111.2 Q372.8,111.2 372.8,107.5 L372.8,104.3" stroke="#555" stroke-width="2.1" fill="none" />
<path d="M365.5,91.5 L365.5,108 Q365.5,111.2 369.1,111.2 Q372.8,111.2 372.8,107.5 L372.8,104.3" stroke="#c8c8c8" stroke-width="0.8" fill="none" />
<path d="M382.8,91.5 L382.8,108 Q382.8,111.2 379.2,111.2 Q375.6,111.2 375.6,107.5 L375.6,104.3" stroke="#555" stroke-width="2.1" fill="none" />
<path d="M382.8,91.5 L382.8,108 Q382.8,111.2 379.2,111.2 Q375.6,111.2 375.6,107.5 L375.6,104.3" stroke="#c8c8c8" stroke-width="0.8" fill="none" />
<text transform="translate(314.70 161.00) scale(1.0000 1)" font-size="5.080" fill="#222" text-anchor="start" font-weight="bold" xml:space="preserve" >SECCION-DETALLES LOSA</text>
<text transform="translate(314.70 168.80) scale(0.9126 1)" font-size="3.700" fill="#555" text-anchor="start" font-weight="normal" xml:space="preserve" >E. 1/10</text>
<rect x="486.60" y="43.20" width="85.00" height="100.80" stroke="#555" stroke-width="0.8" fill="none" />
<text transform="translate(499.40 52.00) scale(0.9524 1)" font-size="5.678" fill="#333" text-anchor="start" font-weight="normal" xml:space="preserve" >LEYENDA CIMENTACION</text>
<circle cx="493.30" cy="61.60" r="3.60" stroke="#777" stroke-width="0.5" fill="#fff"/>
<text x="493.30" y="63.80" font-size="6.3" fill="#333" text-anchor="middle" font-weight="normal" >1</text>
<circle cx="493.30" cy="73.50" r="3.60" stroke="#777" stroke-width="0.5" fill="#fff"/>
<text x="493.30" y="75.70" font-size="6.3" fill="#333" text-anchor="middle" font-weight="normal" >2</text>
<circle cx="493.30" cy="87.20" r="3.60" stroke="#777" stroke-width="0.5" fill="#fff"/>
<text x="493.30" y="89.40" font-size="6.3" fill="#333" text-anchor="middle" font-weight="normal" >3</text>
<circle cx="493.30" cy="99.60" r="3.60" stroke="#777" stroke-width="0.5" fill="#fff"/>
<text x="493.30" y="101.80" font-size="6.3" fill="#333" text-anchor="middle" font-weight="normal" >4</text>
<circle cx="493.30" cy="112.20" r="3.60" stroke="#777" stroke-width="0.5" fill="#fff"/>
<text x="493.30" y="114.40" font-size="6.3" fill="#333" text-anchor="middle" font-weight="normal" >5</text>
<circle cx="493.30" cy="124.00" r="3.60" stroke="#777" stroke-width="0.5" fill="#fff"/>
<text x="493.30" y="126.20" font-size="6.3" fill="#333" text-anchor="middle" font-weight="normal" >6</text>
<circle cx="493.30" cy="135.00" r="3.60" stroke="#777" stroke-width="0.5" fill="#fff"/>
<text x="493.30" y="137.20" font-size="6.3" fill="#333" text-anchor="middle" font-weight="normal" >7</text>
<text transform="translate(499.40 63.60) scale(0.9259 1)" font-size="4.522" fill="#444" text-anchor="start" font-weight="normal" xml:space="preserve" >PILAR DE TUBO</text>
<rect x="534.60" y="59.80" width="5.00" height="4.70" stroke="#333" stroke-width="1.0" fill="none" rx="0.7"/>
<text transform="translate(540.40 63.60) scale(0.8962 1)" font-size="4.500" fill="#444" text-anchor="start" font-weight="normal" xml:space="preserve" >100.100.3 mm.</text>
<text transform="translate(499.40 72.90) scale(0.9259 1)" font-size="4.535" fill="#444" text-anchor="start" font-weight="normal" xml:space="preserve" >ARMADURA SUPERIOR</text>
<text transform="translate(513.50 78.00) scale(0.9037 1)" font-size="4.500" fill="#444" text-anchor="start" font-weight="normal" xml:space="preserve" >Ø12 cada 30 cms.</text>
<text transform="translate(499.40 85.40) scale(0.9259 1)" font-size="4.532" fill="#444" text-anchor="start" font-weight="normal" xml:space="preserve" >ARMADURA INFERIOR</text>
<text transform="translate(513.50 90.50) scale(0.9037 1)" font-size="4.500" fill="#444" text-anchor="start" font-weight="normal" xml:space="preserve" >Ø12 cada 30 cms.</text>
<line x1="502.00" y1="75.70" x2="511.00" y2="75.70" stroke="#222" stroke-width="0.6" />
<line x1="502.00" y1="77.50" x2="511.00" y2="77.50" stroke="#222" stroke-width="0.6" />
<line x1="504.60" y1="79.00" x2="506.20" y2="74.20" stroke="#222" stroke-width="0.6" />
<line x1="507.40" y1="79.00" x2="509.00" y2="74.20" stroke="#222" stroke-width="0.6" />
<line x1="502.00" y1="88.40" x2="511.00" y2="88.40" stroke="#222" stroke-width="0.6" />
<line x1="502.00" y1="90.20" x2="511.00" y2="90.20" stroke="#222" stroke-width="0.6" />
<line x1="504.60" y1="91.70" x2="506.20" y2="86.90" stroke="#222" stroke-width="0.6" />
<line x1="507.40" y1="91.70" x2="509.00" y2="86.90" stroke="#222" stroke-width="0.6" />
<text transform="translate(499.40 98.70) scale(0.9259 1)" font-size="4.522" fill="#444" text-anchor="start" font-weight="normal" xml:space="preserve" >PLACA BASE DE ANCLAJE</text>
<text transform="translate(499.40 103.90) scale(0.9171 1)" font-size="4.500" fill="#444" text-anchor="start" font-weight="normal" xml:space="preserve" >DE 200.200.10 mm.</text>
<text transform="translate(499.40 111.60) scale(0.9259 1)" font-size="4.525" fill="#444" text-anchor="start" font-weight="normal" xml:space="preserve" >LOSA DE HORMIGON</text>
<text transform="translate(499.40 116.20) scale(0.9234 1)" font-size="4.500" fill="#444" text-anchor="start" font-weight="normal" xml:space="preserve" >HA-25 CANTO 20 cms.</text>
<text transform="translate(499.40 123.20) scale(0.9259 1)" font-size="4.561" fill="#444" text-anchor="start" font-weight="normal" xml:space="preserve" >CAPA DE HORMIGON DE</text>
<text transform="translate(499.40 128.00) scale(0.9225 1)" font-size="4.500" fill="#444" text-anchor="start" font-weight="normal" xml:space="preserve" >LIMPIEZA HM-20 espesor 10 cms.</text>
<text transform="translate(499.40 136.60) scale(0.9259 1)" font-size="4.530" fill="#444" text-anchor="start" font-weight="normal" xml:space="preserve" >CAPA DE GRAVA espesor 15 cms.</text>
<text transform="translate(610.80 23.40) scale(0.7681 1)" font-size="4.500" fill="#555" text-anchor="start" font-weight="normal" xml:space="preserve" >ZONA DE ACTUACION</text>
<text transform="translate(610.80 27.80) scale(0.7664 1)" font-size="4.500" fill="#555" text-anchor="start" font-weight="normal" xml:space="preserve" >EDIFICIO -B-</text>
<path d="M600.5,29.1 L670.6,29.1 L670.6,39.5 L681,39.5" stroke="#999" stroke-width="0.5" fill="none" />
<rect x="625.90" y="32.60" width="13.10" height="6.40" stroke="#333" stroke-width="0.9" fill="#b0b0b0" rx="0.6"/>
<line x1="627.00" y1="34.20" x2="638.00" y2="34.20" stroke="#888" stroke-width="0.3" />
<line x1="627.00" y1="35.60" x2="638.00" y2="35.60" stroke="#888" stroke-width="0.3" />
<line x1="627.00" y1="37.00" x2="638.00" y2="37.00" stroke="#888" stroke-width="0.3" />
<line x1="614.40" y1="41.30" x2="614.40" y2="113.20" stroke="#555" stroke-width="0.8" />
<line x1="614.40" y1="113.20" x2="616.50" y2="113.20" stroke="#555" stroke-width="0.8" />
<line x1="616.50" y1="113.20" x2="616.50" y2="149.40" stroke="#555" stroke-width="0.8" />
<line x1="616.50" y1="149.40" x2="657.40" y2="149.40" stroke="#555" stroke-width="0.8" />
<line x1="656.70" y1="41.30" x2="656.70" y2="149.40" stroke="#999" stroke-width="0.5" />
<line x1="657.90" y1="41.30" x2="657.90" y2="149.40" stroke="#555" stroke-width="0.7" />
<line x1="614.40" y1="41.30" x2="630.30" y2="41.30" stroke="#aaa" stroke-width="0.6" />
<line x1="624.00" y1="41.30" x2="630.30" y2="41.30" stroke="#444" stroke-width="0.8" />
<line x1="639.60" y1="41.30" x2="657.90" y2="41.30" stroke="#aaa" stroke-width="0.6" />
<line x1="639.60" y1="41.30" x2="647.00" y2="41.30" stroke="#444" stroke-width="0.8" />
<line x1="632.40" y1="41.30" x2="632.40" y2="149.40" stroke="#8a8a8a" stroke-width="0.5" />
<line x1="639.30" y1="41.30" x2="639.30" y2="149.40" stroke="#8a8a8a" stroke-width="0.5" />
<line x1="631.40" y1="53.40" x2="633.40" y2="53.40" stroke="#666" stroke-width="0.5" />
<line x1="638.30" y1="53.40" x2="640.30" y2="53.40" stroke="#666" stroke-width="0.5" />
<line x1="631.40" y1="56.90" x2="633.40" y2="56.90" stroke="#666" stroke-width="0.5" />
<line x1="638.30" y1="56.90" x2="640.30" y2="56.90" stroke="#666" stroke-width="0.5" />
<line x1="631.40" y1="73.00" x2="633.40" y2="73.00" stroke="#666" stroke-width="0.5" />
<line x1="638.30" y1="73.00" x2="640.30" y2="73.00" stroke="#666" stroke-width="0.5" />
<line x1="631.40" y1="81.10" x2="633.40" y2="81.10" stroke="#666" stroke-width="0.5" />
<line x1="638.30" y1="81.10" x2="640.30" y2="81.10" stroke="#666" stroke-width="0.5" />
<line x1="631.40" y1="97.00" x2="633.40" y2="97.00" stroke="#666" stroke-width="0.5" />
<line x1="638.30" y1="97.00" x2="640.30" y2="97.00" stroke="#666" stroke-width="0.5" />
<line x1="631.40" y1="104.80" x2="633.40" y2="104.80" stroke="#666" stroke-width="0.5" />
<line x1="638.30" y1="104.80" x2="640.30" y2="104.80" stroke="#666" stroke-width="0.5" />
<line x1="631.40" y1="110.00" x2="633.40" y2="110.00" stroke="#666" stroke-width="0.5" />
<line x1="638.30" y1="110.00" x2="640.30" y2="110.00" stroke="#666" stroke-width="0.5" />
<line x1="631.40" y1="121.00" x2="633.40" y2="121.00" stroke="#666" stroke-width="0.5" />
<line x1="638.30" y1="121.00" x2="640.30" y2="121.00" stroke="#666" stroke-width="0.5" />
<line x1="631.40" y1="129.00" x2="633.40" y2="129.00" stroke="#666" stroke-width="0.5" />
<line x1="638.30" y1="129.00" x2="640.30" y2="129.00" stroke="#666" stroke-width="0.5" />
<line x1="631.40" y1="142.00" x2="633.40" y2="142.00" stroke="#666" stroke-width="0.5" />
<line x1="638.30" y1="142.00" x2="640.30" y2="142.00" stroke="#666" stroke-width="0.5" />
<line x1="631.40" y1="146.00" x2="633.40" y2="146.00" stroke="#666" stroke-width="0.5" />
<line x1="638.30" y1="146.00" x2="640.30" y2="146.00" stroke="#666" stroke-width="0.5" />
<line x1="639.30" y1="60.00" x2="640.30" y2="61.50" stroke="#888" stroke-width="0.4" />
<line x1="639.30" y1="66.00" x2="640.30" y2="67.50" stroke="#888" stroke-width="0.4" />
<line x1="639.30" y1="86.00" x2="640.30" y2="87.50" stroke="#888" stroke-width="0.4" />
<line x1="639.30" y1="92.00" x2="640.30" y2="93.50" stroke="#888" stroke-width="0.4" />
<line x1="639.30" y1="114.00" x2="640.30" y2="115.50" stroke="#888" stroke-width="0.4" />
<line x1="639.30" y1="118.00" x2="640.30" y2="119.50" stroke="#888" stroke-width="0.4" />
<line x1="639.30" y1="133.00" x2="640.30" y2="134.50" stroke="#888" stroke-width="0.4" />
<line x1="639.30" y1="137.00" x2="640.30" y2="138.50" stroke="#888" stroke-width="0.4" />
<line x1="614.40" y1="77.40" x2="632.40" y2="77.40" stroke="#555" stroke-width="0.6" />
<line x1="639.30" y1="77.40" x2="657.40" y2="77.40" stroke="#555" stroke-width="0.6" />
<line x1="614.40" y1="101.30" x2="632.40" y2="101.30" stroke="#555" stroke-width="0.6" />
<line x1="639.30" y1="101.30" x2="657.40" y2="101.30" stroke="#555" stroke-width="0.6" />
<line x1="614.40" y1="113.20" x2="632.40" y2="113.20" stroke="#555" stroke-width="0.6" />
<line x1="616.50" y1="125.50" x2="632.40" y2="125.50" stroke="#555" stroke-width="0.6" />
<line x1="639.30" y1="125.50" x2="657.40" y2="125.50" stroke="#888" stroke-width="0.6" />
<line x1="613.00" y1="53.20" x2="616.00" y2="53.20" stroke="#888" stroke-width="0.5" />
<line x1="656.00" y1="53.20" x2="659.30" y2="53.20" stroke="#888" stroke-width="0.5" />
<line x1="613.00" y1="65.50" x2="616.00" y2="65.50" stroke="#888" stroke-width="0.5" />
<line x1="656.00" y1="65.50" x2="659.30" y2="65.50" stroke="#888" stroke-width="0.5" />
<line x1="613.00" y1="77.40" x2="616.00" y2="77.40" stroke="#888" stroke-width="0.5" />
<line x1="656.00" y1="77.40" x2="659.30" y2="77.40" stroke="#888" stroke-width="0.5" />
<line x1="613.00" y1="89.10" x2="616.00" y2="89.10" stroke="#888" stroke-width="0.5" />
<line x1="656.00" y1="89.10" x2="659.30" y2="89.10" stroke="#888" stroke-width="0.5" />
<line x1="613.00" y1="101.30" x2="616.00" y2="101.30" stroke="#888" stroke-width="0.5" />
<line x1="656.00" y1="101.30" x2="659.30" y2="101.30" stroke="#888" stroke-width="0.5" />
<line x1="613.00" y1="113.20" x2="616.00" y2="113.20" stroke="#888" stroke-width="0.5" />
<line x1="656.00" y1="113.20" x2="659.30" y2="113.20" stroke="#888" stroke-width="0.5" />
<line x1="613.00" y1="125.50" x2="616.00" y2="125.50" stroke="#888" stroke-width="0.5" />
<line x1="656.00" y1="125.50" x2="659.30" y2="125.50" stroke="#888" stroke-width="0.5" />
<line x1="613.00" y1="137.50" x2="616.00" y2="137.50" stroke="#888" stroke-width="0.5" />
<line x1="656.00" y1="137.50" x2="659.30" y2="137.50" stroke="#888" stroke-width="0.5" />
<rect x="614.40" y="66.10" width="2.10" height="9.80" stroke="#999" stroke-width="0.4" fill="none" />
<rect x="655.10" y="101.30" width="1.60" height="24.20" stroke="none" stroke-width="0" fill="#ccc" />
<line x1="615.40" y1="107.10" x2="629.80" y2="107.10" stroke="#555" stroke-width="0.55" />
<rect x="629.20" y="104.80" width="3.40" height="5.20" stroke="#555" stroke-width="0.5" fill="none" />
<line x1="615.40" y1="104.30" x2="629.20" y2="104.30" stroke="#777" stroke-width="0.45" />
<line x1="615.40" y1="110.20" x2="629.20" y2="110.20" stroke="#777" stroke-width="0.45" />
<circle cx="616.60" cy="104.30" r="0.60" stroke="#777" stroke-width="0.35" fill="#fff"/>
<circle cx="616.60" cy="107.10" r="0.60" stroke="#777" stroke-width="0.35" fill="#fff"/>
<circle cx="616.60" cy="110.20" r="0.60" stroke="#777" stroke-width="0.35" fill="#fff"/>
<rect x="621.10" y="113.40" width="8.70" height="12.10" stroke="none" stroke-width="0" fill="#b8b8b8" />
<line x1="621.10" y1="114.50" x2="629.80" y2="114.50" stroke="#888" stroke-width="0.35" />
<line x1="621.10" y1="116.00" x2="629.80" y2="116.00" stroke="#888" stroke-width="0.35" />
<line x1="621.10" y1="117.50" x2="629.80" y2="117.50" stroke="#888" stroke-width="0.35" />
<line x1="621.10" y1="119.00" x2="629.80" y2="119.00" stroke="#888" stroke-width="0.35" />
<line x1="621.10" y1="120.50" x2="629.80" y2="120.50" stroke="#888" stroke-width="0.35" />
<line x1="621.10" y1="122.00" x2="629.80" y2="122.00" stroke="#888" stroke-width="0.35" />
<line x1="621.10" y1="123.50" x2="629.80" y2="123.50" stroke="#888" stroke-width="0.35" />
<line x1="621.10" y1="125.00" x2="629.80" y2="125.00" stroke="#888" stroke-width="0.35" />
<path d="M629.8,117 L622.6,117 L622.6,121.2 L629.8,121.2" stroke="#fff" stroke-width="0.7" fill="none" />
<line x1="619.40" y1="117.00" x2="619.40" y2="124.50" stroke="#999" stroke-width="0.5" />
<line x1="619.40" y1="117.00" x2="621.00" y2="117.00" stroke="#999" stroke-width="0.5" />
<circle cx="622.60" cy="123.60" r="0.60" stroke="#333" stroke-width="0.4" fill="#333"/>
<rect x="43.40" y="251.40" width="266.00" height="146.90" stroke="#555" stroke-width="0.8" fill="none" />
<text transform="translate(46.10 260.20) scale(0.9449 1)" font-size="4.600" fill="#555" text-anchor="start" font-weight="normal" xml:space="preserve" >Dimensiones Placa = 200x200x10 mm ( A42 )</text>
<text transform="translate(46.10 269.00) scale(0.9432 1)" font-size="4.600" fill="#555" text-anchor="start" font-weight="normal" xml:space="preserve" >Pernos = 4Ø10 mm, A-4D (liso)</text>
<text transform="translate(46.10 277.90) scale(0.9394 1)" font-size="4.600" fill="#555" text-anchor="start" font-weight="normal" xml:space="preserve" >Ref. pilares :  P3÷P4</text>
<text transform="translate(46.10 286.70) scale(0.9439 1)" font-size="4.600" fill="#555" text-anchor="start" font-weight="normal" xml:space="preserve" >Escala 1 : 10</text>
<text transform="translate(46.10 391.50) scale(0.9401 1)" font-size="4.600" fill="#555" text-anchor="start" font-weight="normal" xml:space="preserve" >Espesor placa base: 10 mm</text>
<rect x="74.90" y="321.30" width="25.70" height="1.90" stroke="#bbb" stroke-width="0.35" fill="#e2e2e2" />
<line x1="84.10" y1="297.90" x2="84.10" y2="321.30" stroke="#444" stroke-width="1.0" />
<line x1="91.80" y1="297.90" x2="91.80" y2="321.30" stroke="#444" stroke-width="1.0" />
<line x1="85.00" y1="297.90" x2="85.00" y2="321.30" stroke="#bbb" stroke-width="0.4" />
<line x1="90.90" y1="297.90" x2="90.90" y2="321.30" stroke="#bbb" stroke-width="0.4" />
<line x1="84.10" y1="297.90" x2="91.80" y2="297.90" stroke="#ccc" stroke-width="0.5" />
<line x1="78.80" y1="323.20" x2="78.80" y2="327.00" stroke="#999" stroke-width="0.5" />
<line x1="77.80" y1="327.20" x2="79.80" y2="327.20" stroke="#777" stroke-width="0.7" />
<line x1="95.90" y1="323.20" x2="95.90" y2="327.00" stroke="#999" stroke-width="0.5" />
<line x1="94.90" y1="327.20" x2="96.90" y2="327.20" stroke="#777" stroke-width="0.7" />
<path d="M120.1,319.1 L137.8,309.0 L155.6,319.1 L137.8,329.3 Z" stroke="#888" stroke-width="0.5" fill="#fff" />
<path d="M133,300 L133,318.6 Q137.8,321.6 143.3,318.6 L143.3,300" stroke="#999" stroke-width="0.5" fill="#fff" />
<path d="M133,300 L137.8,297.4 L143.3,300 L137.8,302.6 Z" stroke="#888" stroke-width="0.5" fill="#fff" />
<line x1="137.80" y1="297.40" x2="137.80" y2="321.30" stroke="#333" stroke-width="1.0" />
<line x1="134.40" y1="300.80" x2="134.40" y2="319.30" stroke="#bbb" stroke-width="0.4" />
<line x1="141.90" y1="300.80" x2="141.90" y2="319.30" stroke="#bbb" stroke-width="0.4" />
<rect x="75.30" y="349.20" width="25.10" height="25.20" stroke="#aaa" stroke-width="0.5" fill="none" />
<rect x="80.90" y="355.10" width="13.20" height="13.10" stroke="#333" stroke-width="1.0" fill="none" rx="4"/>
<line x1="77.70" y1="352.70" x2="79.90" y2="352.70" stroke="#888" stroke-width="0.4" />
<line x1="78.80" y1="351.60" x2="78.80" y2="353.80" stroke="#888" stroke-width="0.4" />
<line x1="95.10" y1="352.70" x2="97.30" y2="352.70" stroke="#888" stroke-width="0.4" />
<line x1="96.20" y1="351.60" x2="96.20" y2="353.80" stroke="#888" stroke-width="0.4" />
<line x1="77.70" y1="370.40" x2="79.90" y2="370.40" stroke="#888" stroke-width="0.4" />
<line x1="78.80" y1="369.30" x2="78.80" y2="371.50" stroke="#888" stroke-width="0.4" />
<line x1="95.10" y1="370.40" x2="97.30" y2="370.40" stroke="#888" stroke-width="0.4" />
<line x1="96.20" y1="369.30" x2="96.20" y2="371.50" stroke="#888" stroke-width="0.4" />
<line x1="74.50" y1="337.60" x2="100.90" y2="337.60" stroke="#999" stroke-width="0.45" />
<line x1="74.50" y1="343.70" x2="100.90" y2="343.70" stroke="#999" stroke-width="0.45" />
<line x1="73.20" y1="338.90" x2="75.80" y2="336.30" stroke="#222" stroke-width="0.85" />
<line x1="99.60" y1="338.90" x2="102.20" y2="336.30" stroke="#222" stroke-width="0.85" />
<line x1="73.20" y1="345.00" x2="75.80" y2="342.40" stroke="#222" stroke-width="0.85" />
<line x1="80.10" y1="345.00" x2="82.70" y2="342.40" stroke="#222" stroke-width="0.85" />
<line x1="92.20" y1="345.00" x2="94.80" y2="342.40" stroke="#222" stroke-width="0.85" />
<line x1="99.60" y1="345.00" x2="102.20" y2="342.40" stroke="#222" stroke-width="0.85" />
<text transform="translate(87.70 336.40) scale(0.9990 1)" font-size="3.900" fill="#1a1a1a" text-anchor="middle" font-weight="bold" xml:space="preserve" >200</text>
<text transform="translate(77.80 342.60) scale(1.0490 1)" font-size="3.600" fill="#1a1a1a" text-anchor="middle" font-weight="bold" xml:space="preserve" >50</text>
<text transform="translate(87.50 342.60) scale(0.9683 1)" font-size="3.900" fill="#1a1a1a" text-anchor="middle" font-weight="bold" xml:space="preserve" >100</text>
<text transform="translate(97.30 342.60) scale(1.0490 1)" font-size="3.600" fill="#1a1a1a" text-anchor="middle" font-weight="bold" xml:space="preserve" >50</text>
<line x1="63.40" y1="348.50" x2="63.40" y2="374.90" stroke="#999" stroke-width="0.45" />
<line x1="68.20" y1="348.50" x2="68.20" y2="374.90" stroke="#999" stroke-width="0.45" />
<line x1="62.10" y1="350.20" x2="64.70" y2="347.60" stroke="#222" stroke-width="0.85" />
<line x1="62.10" y1="375.90" x2="64.70" y2="373.30" stroke="#222" stroke-width="0.85" />
<line x1="66.90" y1="350.20" x2="69.50" y2="347.60" stroke="#222" stroke-width="0.85" />
<line x1="66.90" y1="356.60" x2="69.50" y2="354.00" stroke="#222" stroke-width="0.85" />
<line x1="66.90" y1="369.50" x2="69.50" y2="366.90" stroke="#222" stroke-width="0.85" />
<line x1="66.90" y1="375.90" x2="69.50" y2="373.30" stroke="#222" stroke-width="0.85" />
<text transform="translate(62.20 361.70) rotate(-90) scale(0.9990 1)" font-size="3.900" fill="#1a1a1a" text-anchor="middle" font-weight="bold" xml:space="preserve" >200</text>
<text transform="translate(67.30 361.70) rotate(-90) scale(0.9683 1)" font-size="3.900" fill="#1a1a1a" text-anchor="middle" font-weight="bold" xml:space="preserve" >100</text>
<text transform="translate(67.30 352.00) rotate(-90) scale(1.0490 1)" font-size="3.600" fill="#1a1a1a" text-anchor="middle" font-weight="bold" xml:space="preserve" >50</text>
<text transform="translate(67.30 371.50) rotate(-90) scale(1.0490 1)" font-size="3.600" fill="#1a1a1a" text-anchor="middle" font-weight="bold" xml:space="preserve" >50</text>
<line x1="106.40" y1="348.50" x2="106.40" y2="374.90" stroke="#999" stroke-width="0.45" />
<line x1="105.10" y1="350.20" x2="107.70" y2="347.60" stroke="#222" stroke-width="0.85" />
<line x1="105.10" y1="354.00" x2="107.70" y2="351.40" stroke="#222" stroke-width="0.85" />
<line x1="105.10" y1="371.70" x2="107.70" y2="369.10" stroke="#222" stroke-width="0.85" />
<line x1="105.10" y1="375.90" x2="107.70" y2="373.30" stroke="#222" stroke-width="0.85" />
<text transform="translate(105.30 361.70) rotate(-90) scale(0.9683 1)" font-size="3.900" fill="#1a1a1a" text-anchor="middle" font-weight="bold" xml:space="preserve" >140</text>
<text transform="translate(105.30 351.00) rotate(-90) scale(1.0490 1)" font-size="3.600" fill="#1a1a1a" text-anchor="middle" font-weight="bold" xml:space="preserve" >50</text>
<text transform="translate(105.30 372.30) rotate(-90) scale(1.0490 1)" font-size="3.600" fill="#1a1a1a" text-anchor="middle" font-weight="bold" xml:space="preserve" >50</text>
<line x1="75.30" y1="377.00" x2="100.40" y2="377.00" stroke="#999" stroke-width="0.45" />
<line x1="74.00" y1="378.30" x2="76.60" y2="375.70" stroke="#222" stroke-width="0.85" />
<line x1="77.50" y1="378.30" x2="80.10" y2="375.70" stroke="#222" stroke-width="0.85" />
<line x1="94.90" y1="378.30" x2="97.50" y2="375.70" stroke="#222" stroke-width="0.85" />
<line x1="99.10" y1="378.30" x2="101.70" y2="375.70" stroke="#222" stroke-width="0.85" />
<text transform="translate(87.70 377.60) scale(0.9683 1)" font-size="3.900" fill="#1a1a1a" text-anchor="middle" font-weight="bold" xml:space="preserve" >140</text>
<text transform="translate(76.80 377.60) scale(0.9990 1)" font-size="3.600" fill="#1a1a1a" text-anchor="middle" font-weight="bold" xml:space="preserve" >50</text>
<text transform="translate(98.50 377.60) scale(0.9990 1)" font-size="3.600" fill="#1a1a1a" text-anchor="middle" font-weight="bold" xml:space="preserve" >50</text>
<text transform="translate(194.90 302.90) scale(1.0000 1)" font-size="6.955" fill="#333" text-anchor="start" font-weight="normal" xml:space="preserve" >Detalle Anclaje Perno</text>
<rect x="177.10" y="326.20" width="16.80" height="2.00" stroke="none" stroke-width="0" fill="#d0d0d0" />
<line x1="177.10" y1="326.30" x2="193.90" y2="326.30" stroke="#888" stroke-width="0.5" />
<line x1="177.10" y1="328.20" x2="193.90" y2="328.20" stroke="#aaa" stroke-width="0.4" />
<line x1="177.10" y1="330.20" x2="272.00" y2="330.20" stroke="#aaa" stroke-width="0.5" />
<line x1="185.20" y1="339.70" x2="301.00" y2="339.70" stroke="#aaa" stroke-width="0.5" />
<path d="M185.2,328.2 L185.2,361.8 A3.8,3.8 0 0 1 177.6,361.8 L177.6,357.8" stroke="#9a9a9a" stroke-width="1.6" fill="none" />
<line x1="190.50" y1="330.20" x2="190.50" y2="361.80" stroke="#aaa" stroke-width="0.4" />
<line x1="189.50" y1="331.60" x2="191.50" y2="329.60" stroke="#222" stroke-width="0.8" />
<line x1="189.50" y1="362.50" x2="191.50" y2="360.50" stroke="#222" stroke-width="0.8" />
<text transform="translate(189.30 345.70) rotate(-90) scale(0.7992 1)" font-size="4.500" fill="#222" text-anchor="middle" font-weight="bold" xml:space="preserve" >140</text>
<text transform="translate(181.80 351.80) rotate(-20) scale(0.7992 1)" font-size="4.500" fill="#222" text-anchor="middle" font-weight="bold" xml:space="preserve" >30</text>
<line x1="178.50" y1="353.50" x2="184.50" y2="349.50" stroke="#555" stroke-width="0.45" />
<text transform="translate(171.60 331.00) rotate(-90) scale(0.8392 1)" font-size="4.500" fill="#222" text-anchor="middle" font-weight="bold" xml:space="preserve" >20</text>
<text transform="translate(171.60 324.90) rotate(-90) scale(0.7992 1)" font-size="4.500" fill="#222" text-anchor="middle" font-weight="bold" xml:space="preserve" >10</text>
<text transform="translate(171.60 362.50) rotate(-90) scale(0.8392 1)" font-size="4.500" fill="#222" text-anchor="middle" font-weight="bold" xml:space="preserve" >20</text>
<line x1="172.30" y1="328.50" x2="174.30" y2="326.50" stroke="#222" stroke-width="0.8" />
<line x1="172.30" y1="360.50" x2="174.30" y2="358.50" stroke="#222" stroke-width="0.8" />
<line x1="172.30" y1="324.50" x2="174.30" y2="322.50" stroke="#222" stroke-width="0.8" />
<path d="M186.5,326.2 L195.9,312.8 L216,312.8" stroke="#888" stroke-width="0.45" fill="none" />
<path d="M193.9,327.6 L201.3,320.8 L223.5,320.8" stroke="#888" stroke-width="0.45" fill="none" />
<text transform="translate(195.90 311.40) scale(0.8929 1)" font-size="4.791" fill="#444" text-anchor="start" font-weight="normal" xml:space="preserve" >Soldadura</text>
<text transform="translate(201.70 319.50) scale(0.8929 1)" font-size="4.867" fill="#444" text-anchor="start" font-weight="normal" xml:space="preserve" >Placa base</text>
<text transform="translate(202.00 329.30) scale(0.8929 1)" font-size="5.014" fill="#444" text-anchor="start" font-weight="normal" xml:space="preserve" >Mortero de nivelación</text>
<text transform="translate(204.00 338.00) scale(0.8929 1)" font-size="4.788" fill="#444" text-anchor="start" font-weight="normal" xml:space="preserve" >Perno: Ø10 mm, A-4D (liso)</text>
<text transform="translate(204.20 361.90) scale(0.8929 1)" font-size="4.856" fill="#444" text-anchor="start" font-weight="normal" xml:space="preserve" >Hormigón: HA-25, Control estadístico</text>
<text transform="translate(174.60 377.50) scale(0.8929 1)" font-size="4.993" fill="#444" text-anchor="start" font-weight="normal" xml:space="preserve" >Orientar anclaje al centro de la placa</text>
<line x1="173.20" y1="380.40" x2="302.00" y2="380.40" stroke="#999" stroke-width="0.5" />
<line x1="197.37" y1="349.97" x2="197.05" y2="349.41" stroke="#888" stroke-width="0.45" />
<line x1="196.86" y1="350.80" x2="197.04" y2="351.66" stroke="#888" stroke-width="0.45" />
<line x1="201.07" y1="350.13" x2="199.90" y2="350.14" stroke="#888" stroke-width="0.45" />
<line x1="199.59" y1="349.23" x2="199.27" y2="348.62" stroke="#888" stroke-width="0.45" />
<line x1="197.87" y1="346.97" x2="197.16" y2="346.96" stroke="#888" stroke-width="0.45" />
<line x1="194.43" y1="350.05" x2="194.71" y2="351.03" stroke="#888" stroke-width="0.45" />
<line x1="195.06" y1="344.10" x2="195.06" y2="342.98" stroke="#888" stroke-width="0.45" />
<line x1="199.95" y1="349.36" x2="201.03" y2="349.56" stroke="#888" stroke-width="0.45" />
<line x1="196.70" y1="349.04" x2="196.74" y2="348.21" stroke="#888" stroke-width="0.45" />
<line x1="194.45" y1="349.38" x2="194.92" y2="350.32" stroke="#888" stroke-width="0.45" />
<line x1="198.68" y1="351.64" x2="198.07" y2="351.83" stroke="#888" stroke-width="0.45" />
<line x1="198.54" y1="348.51" x2="198.83" y2="349.74" stroke="#888" stroke-width="0.45" />
<line x1="200.50" y1="350.81" x2="201.36" y2="351.14" stroke="#888" stroke-width="0.45" />
<line x1="200.58" y1="345.99" x2="199.83" y2="345.27" stroke="#888" stroke-width="0.45" />
<line x1="194.31" y1="352.62" x2="193.42" y2="352.58" stroke="#888" stroke-width="0.45" />
<line x1="198.49" y1="350.00" x2="198.62" y2="351.17" stroke="#888" stroke-width="0.45" />
<line x1="196.81" y1="352.81" x2="197.43" y2="351.90" stroke="#888" stroke-width="0.45" />
<line x1="196.60" y1="350.77" x2="197.75" y2="351.24" stroke="#888" stroke-width="0.45" />
<line x1="195.21" y1="345.72" x2="194.59" y2="345.17" stroke="#888" stroke-width="0.45" />
<line x1="198.17" y1="347.66" x2="197.51" y2="347.84" stroke="#888" stroke-width="0.45" />
<line x1="196.30" y1="349.25" x2="195.43" y2="349.89" stroke="#888" stroke-width="0.45" />
<line x1="195.55" y1="348.96" x2="195.49" y2="350.10" stroke="#888" stroke-width="0.45" />
<line x1="213.57" y1="351.80" x2="212.78" y2="352.31" stroke="#888" stroke-width="0.45" />
<line x1="225.52" y1="344.65" x2="226.11" y2="344.43" stroke="#888" stroke-width="0.45" />
<line x1="210.38" y1="345.11" x2="209.36" y2="345.11" stroke="#888" stroke-width="0.45" />
<line x1="224.39" y1="348.96" x2="224.89" y2="349.54" stroke="#888" stroke-width="0.45" />
<line x1="208.13" y1="347.59" x2="207.36" y2="347.11" stroke="#888" stroke-width="0.45" />
<line x1="214.41" y1="348.80" x2="215.31" y2="349.16" stroke="#888" stroke-width="0.45" />
<line x1="214.29" y1="349.12" x2="213.48" y2="349.93" stroke="#888" stroke-width="0.45" />
<line x1="216.57" y1="344.73" x2="215.80" y2="345.43" stroke="#888" stroke-width="0.45" />
<line x1="211.60" y1="350.17" x2="211.37" y2="351.39" stroke="#888" stroke-width="0.45" />
<line x1="217.53" y1="353.23" x2="217.93" y2="353.94" stroke="#888" stroke-width="0.45" />
<line x1="216.72" y1="346.16" x2="216.18" y2="346.75" stroke="#888" stroke-width="0.45" />
<line x1="223.18" y1="346.84" x2="223.75" y2="345.80" stroke="#888" stroke-width="0.45" />
<line x1="214.58" y1="346.13" x2="213.49" y2="345.52" stroke="#888" stroke-width="0.45" />
<line x1="209.68" y1="352.39" x2="208.76" y2="352.37" stroke="#888" stroke-width="0.45" />
<line x1="212.55" y1="353.55" x2="212.68" y2="354.29" stroke="#888" stroke-width="0.45" />
<line x1="224.05" y1="345.44" x2="223.73" y2="344.92" stroke="#888" stroke-width="0.45" />
<line x1="217.78" y1="344.36" x2="217.19" y2="343.62" stroke="#888" stroke-width="0.45" />
<line x1="212.07" y1="346.02" x2="212.83" y2="347.05" stroke="#888" stroke-width="0.45" />
<line x1="217.79" y1="344.39" x2="218.16" y2="345.03" stroke="#888" stroke-width="0.45" />
<line x1="220.06" y1="345.96" x2="221.35" y2="345.96" stroke="#888" stroke-width="0.45" />
<line x1="218.78" y1="351.59" x2="219.46" y2="351.62" stroke="#888" stroke-width="0.45" />
<line x1="219.58" y1="349.08" x2="220.69" y2="348.46" stroke="#888" stroke-width="0.45" />
<line x1="208.44" y1="348.59" x2="209.44" y2="348.78" stroke="#888" stroke-width="0.45" />
<line x1="226.71" y1="347.46" x2="226.44" y2="348.37" stroke="#888" stroke-width="0.45" />
<line x1="220.82" y1="352.25" x2="221.49" y2="352.54" stroke="#888" stroke-width="0.45" />
<line x1="215.57" y1="346.00" x2="215.56" y2="345.15" stroke="#888" stroke-width="0.45" />
<line x1="213.87" y1="347.11" x2="213.39" y2="348.29" stroke="#888" stroke-width="0.45" />
<line x1="221.98" y1="348.52" x2="222.97" y2="348.63" stroke="#888" stroke-width="0.45" />
<line x1="212.25" y1="351.78" x2="212.46" y2="351.22" stroke="#888" stroke-width="0.45" />
<line x1="208.21" y1="352.26" x2="207.50" y2="352.10" stroke="#888" stroke-width="0.45" />
<line x1="211.47" y1="350.35" x2="210.90" y2="349.75" stroke="#888" stroke-width="0.45" />
<line x1="211.23" y1="345.81" x2="210.91" y2="345.22" stroke="#888" stroke-width="0.45" />
<line x1="216.17" y1="351.32" x2="216.06" y2="350.24" stroke="#888" stroke-width="0.45" />
<line x1="208.22" y1="347.31" x2="207.37" y2="347.91" stroke="#888" stroke-width="0.45" />
<line x1="209.64" y1="349.72" x2="210.90" y2="349.53" stroke="#888" stroke-width="0.45" />
<line x1="216.51" y1="348.11" x2="216.78" y2="349.00" stroke="#888" stroke-width="0.45" />
<line x1="222.24" y1="347.76" x2="221.62" y2="348.66" stroke="#888" stroke-width="0.45" />
<line x1="222.90" y1="344.01" x2="223.67" y2="343.40" stroke="#888" stroke-width="0.45" />
<line x1="223.82" y1="351.21" x2="223.87" y2="350.53" stroke="#888" stroke-width="0.45" />
<line x1="210.47" y1="348.97" x2="210.55" y2="349.57" stroke="#888" stroke-width="0.45" />
<line x1="218.62" y1="351.65" x2="218.90" y2="352.89" stroke="#888" stroke-width="0.45" />
<line x1="210.43" y1="353.21" x2="210.36" y2="352.40" stroke="#888" stroke-width="0.45" />
<line x1="218.40" y1="349.10" x2="217.59" y2="349.90" stroke="#888" stroke-width="0.45" />
<line x1="221.80" y1="351.43" x2="221.16" y2="352.45" stroke="#888" stroke-width="0.45" />
<line x1="209.43" y1="347.23" x2="208.73" y2="346.61" stroke="#888" stroke-width="0.45" />
<line x1="209.80" y1="351.42" x2="210.17" y2="350.47" stroke="#888" stroke-width="0.45" />
<line x1="211.71" y1="351.88" x2="211.32" y2="350.76" stroke="#888" stroke-width="0.45" />
<line x1="218.10" y1="348.82" x2="217.06" y2="349.05" stroke="#888" stroke-width="0.45" />
<line x1="214.33" y1="345.64" x2="213.67" y2="345.78" stroke="#888" stroke-width="0.45" />
<line x1="211.76" y1="351.78" x2="212.92" y2="351.95" stroke="#888" stroke-width="0.45" />
<line x1="221.25" y1="352.66" x2="220.86" y2="351.73" stroke="#888" stroke-width="0.45" />
<line x1="211.55" y1="345.42" x2="212.27" y2="344.49" stroke="#888" stroke-width="0.45" />
<line x1="212.02" y1="353.34" x2="211.42" y2="352.36" stroke="#888" stroke-width="0.45" />
<line x1="222.82" y1="347.21" x2="222.19" y2="347.68" stroke="#888" stroke-width="0.45" />
<line x1="211.10" y1="349.55" x2="210.29" y2="350.40" stroke="#888" stroke-width="0.45" />
<line x1="214.08" y1="345.03" x2="214.99" y2="345.27" stroke="#888" stroke-width="0.45" />
<line x1="226.98" y1="352.57" x2="226.35" y2="351.63" stroke="#888" stroke-width="0.45" />
<line x1="208.51" y1="351.53" x2="207.88" y2="351.11" stroke="#888" stroke-width="0.45" />
<line x1="208.64" y1="350.64" x2="209.51" y2="351.04" stroke="#888" stroke-width="0.45" />
<line x1="208.55" y1="350.13" x2="209.78" y2="350.42" stroke="#888" stroke-width="0.45" />
<line x1="233.50" y1="354.29" x2="234.77" y2="354.37" stroke="#888" stroke-width="0.45" />
<line x1="234.41" y1="355.61" x2="233.25" y2="355.77" stroke="#888" stroke-width="0.45" />
<line x1="233.08" y1="355.68" x2="232.96" y2="356.33" stroke="#888" stroke-width="0.45" />
<line x1="229.08" y1="355.27" x2="229.90" y2="354.73" stroke="#888" stroke-width="0.45" />
<line x1="225.34" y1="354.25" x2="225.93" y2="355.36" stroke="#888" stroke-width="0.45" />
<line x1="222.06" y1="355.37" x2="222.93" y2="355.00" stroke="#888" stroke-width="0.45" />
<line x1="235.00" y1="355.31" x2="234.28" y2="355.80" stroke="#888" stroke-width="0.45" />
<line x1="222.86" y1="354.58" x2="223.85" y2="355.01" stroke="#888" stroke-width="0.45" />
<line x1="231.69" y1="354.20" x2="231.13" y2="354.48" stroke="#888" stroke-width="0.45" />
<line x1="231.06" y1="354.77" x2="230.48" y2="354.36" stroke="#888" stroke-width="0.45" />
<line x1="262.87" y1="350.41" x2="262.84" y2="349.23" stroke="#888" stroke-width="0.45" />
<line x1="252.45" y1="344.49" x2="251.54" y2="344.03" stroke="#888" stroke-width="0.45" />
<line x1="259.33" y1="349.44" x2="258.60" y2="349.32" stroke="#888" stroke-width="0.45" />
<line x1="246.96" y1="344.99" x2="246.33" y2="345.91" stroke="#888" stroke-width="0.45" />
<line x1="244.37" y1="348.30" x2="243.83" y2="347.91" stroke="#888" stroke-width="0.45" />
<line x1="245.33" y1="353.55" x2="245.41" y2="352.86" stroke="#888" stroke-width="0.45" />
<line x1="264.36" y1="348.31" x2="264.74" y2="349.46" stroke="#888" stroke-width="0.45" />
<line x1="251.47" y1="346.31" x2="250.20" y2="346.14" stroke="#888" stroke-width="0.45" />
<line x1="248.37" y1="349.80" x2="247.77" y2="349.67" stroke="#888" stroke-width="0.45" />
<line x1="245.23" y1="346.98" x2="245.27" y2="345.89" stroke="#888" stroke-width="0.45" />
<line x1="245.10" y1="350.04" x2="245.34" y2="349.37" stroke="#888" stroke-width="0.45" />
<line x1="254.04" y1="349.54" x2="253.42" y2="349.12" stroke="#888" stroke-width="0.45" />
<line x1="257.98" y1="349.46" x2="258.72" y2="349.30" stroke="#888" stroke-width="0.45" />
<line x1="247.66" y1="345.29" x2="247.21" y2="344.53" stroke="#888" stroke-width="0.45" />
<line x1="254.76" y1="350.61" x2="255.33" y2="351.50" stroke="#888" stroke-width="0.45" />
<line x1="245.40" y1="350.73" x2="245.85" y2="350.18" stroke="#888" stroke-width="0.45" />
<line x1="255.76" y1="345.35" x2="255.62" y2="344.47" stroke="#888" stroke-width="0.45" />
<line x1="247.06" y1="347.30" x2="246.73" y2="346.17" stroke="#888" stroke-width="0.45" />
<line x1="249.27" y1="350.59" x2="248.50" y2="351.30" stroke="#888" stroke-width="0.45" />
<line x1="254.14" y1="346.03" x2="254.49" y2="346.53" stroke="#888" stroke-width="0.45" />
<line x1="263.32" y1="346.51" x2="262.75" y2="345.45" stroke="#888" stroke-width="0.45" />
<line x1="251.44" y1="351.51" x2="251.56" y2="352.57" stroke="#888" stroke-width="0.45" />
<line x1="256.05" y1="349.14" x2="256.31" y2="348.53" stroke="#888" stroke-width="0.45" />
<line x1="251.49" y1="350.96" x2="251.22" y2="350.34" stroke="#888" stroke-width="0.45" />
<line x1="251.15" y1="344.30" x2="250.53" y2="344.32" stroke="#888" stroke-width="0.45" />
<line x1="262.83" y1="350.10" x2="263.21" y2="349.57" stroke="#888" stroke-width="0.45" />
<line x1="251.96" y1="345.49" x2="251.17" y2="346.11" stroke="#888" stroke-width="0.45" />
<line x1="261.00" y1="353.45" x2="260.35" y2="354.41" stroke="#888" stroke-width="0.45" />
<line x1="261.05" y1="352.87" x2="261.06" y2="354.02" stroke="#888" stroke-width="0.45" />
<line x1="244.38" y1="349.68" x2="245.04" y2="349.28" stroke="#888" stroke-width="0.45" />
<line x1="250.60" y1="349.79" x2="249.99" y2="350.66" stroke="#888" stroke-width="0.45" />
<line x1="245.39" y1="344.88" x2="246.07" y2="345.16" stroke="#888" stroke-width="0.45" />
<line x1="254.75" y1="346.30" x2="254.03" y2="347.29" stroke="#888" stroke-width="0.45" />
<line x1="258.69" y1="352.93" x2="259.40" y2="352.54" stroke="#888" stroke-width="0.45" />
<line x1="246.69" y1="349.56" x2="246.91" y2="348.87" stroke="#888" stroke-width="0.45" />
<line x1="251.12" y1="344.79" x2="251.49" y2="344.06" stroke="#888" stroke-width="0.45" />
<line x1="252.69" y1="350.88" x2="253.55" y2="351.16" stroke="#888" stroke-width="0.45" />
<line x1="250.26" y1="352.59" x2="251.23" y2="353.05" stroke="#888" stroke-width="0.45" />
<line x1="254.95" y1="346.32" x2="255.65" y2="345.27" stroke="#888" stroke-width="0.45" />
<line x1="250.45" y1="353.44" x2="249.46" y2="352.97" stroke="#888" stroke-width="0.45" />
<line x1="251.92" y1="346.11" x2="252.95" y2="346.36" stroke="#888" stroke-width="0.45" />
<line x1="252.88" y1="348.45" x2="251.73" y2="348.73" stroke="#888" stroke-width="0.45" />
<line x1="247.03" y1="352.21" x2="246.18" y2="352.21" stroke="#888" stroke-width="0.45" />
<line x1="251.50" y1="351.62" x2="250.65" y2="351.38" stroke="#888" stroke-width="0.45" />
<line x1="248.29" y1="348.49" x2="247.54" y2="348.04" stroke="#888" stroke-width="0.45" />
<line x1="251.65" y1="349.01" x2="250.56" y2="349.12" stroke="#888" stroke-width="0.45" />
<line x1="249.18" y1="347.49" x2="249.15" y2="348.14" stroke="#888" stroke-width="0.45" />
<line x1="260.00" y1="347.54" x2="260.96" y2="348.30" stroke="#888" stroke-width="0.45" />
<line x1="248.44" y1="345.30" x2="247.60" y2="344.38" stroke="#888" stroke-width="0.45" />
<line x1="252.98" y1="345.07" x2="252.92" y2="344.23" stroke="#888" stroke-width="0.45" />
<line x1="259.57" y1="351.78" x2="260.42" y2="351.79" stroke="#888" stroke-width="0.45" />
<line x1="260.59" y1="351.82" x2="260.53" y2="353.02" stroke="#888" stroke-width="0.45" />
<line x1="250.07" y1="349.36" x2="249.31" y2="349.33" stroke="#888" stroke-width="0.45" />
<line x1="254.16" y1="346.19" x2="253.79" y2="347.44" stroke="#888" stroke-width="0.45" />
<line x1="251.42" y1="351.05" x2="251.06" y2="351.93" stroke="#888" stroke-width="0.45" />
<line x1="255.27" y1="344.76" x2="254.77" y2="343.97" stroke="#888" stroke-width="0.45" />
<line x1="258.68" y1="344.85" x2="258.64" y2="345.57" stroke="#888" stroke-width="0.45" />
<line x1="249.65" y1="352.48" x2="249.88" y2="351.75" stroke="#888" stroke-width="0.45" />
<line x1="249.77" y1="346.49" x2="250.21" y2="346.06" stroke="#888" stroke-width="0.45" />
<line x1="257.57" y1="353.31" x2="257.03" y2="354.33" stroke="#888" stroke-width="0.45" />
<line x1="250.42" y1="347.20" x2="250.08" y2="347.84" stroke="#888" stroke-width="0.45" />
<line x1="252.52" y1="344.13" x2="253.23" y2="343.21" stroke="#888" stroke-width="0.45" />
<line x1="262.48" y1="347.13" x2="261.87" y2="347.00" stroke="#888" stroke-width="0.45" />
<line x1="246.08" y1="353.67" x2="246.03" y2="354.79" stroke="#888" stroke-width="0.45" />
<line x1="261.44" y1="346.64" x2="261.92" y2="345.65" stroke="#888" stroke-width="0.45" />
<line x1="269.97" y1="354.55" x2="268.74" y2="354.22" stroke="#888" stroke-width="0.45" />
<line x1="270.66" y1="354.75" x2="271.27" y2="354.86" stroke="#888" stroke-width="0.45" />
<line x1="261.26" y1="354.93" x2="261.10" y2="353.71" stroke="#888" stroke-width="0.45" />
<line x1="262.18" y1="355.30" x2="260.97" y2="355.54" stroke="#888" stroke-width="0.45" />
<line x1="261.36" y1="355.33" x2="260.66" y2="354.40" stroke="#888" stroke-width="0.45" />
<line x1="268.93" y1="355.63" x2="269.64" y2="356.31" stroke="#888" stroke-width="0.45" />
<line x1="261.21" y1="355.04" x2="262.19" y2="355.69" stroke="#888" stroke-width="0.45" />
<line x1="262.23" y1="355.28" x2="261.83" y2="354.23" stroke="#888" stroke-width="0.45" />
<line x1="266.02" y1="354.42" x2="265.69" y2="355.60" stroke="#888" stroke-width="0.45" />
<line x1="274.23" y1="345.44" x2="273.29" y2="345.88" stroke="#888" stroke-width="0.45" />
<line x1="273.15" y1="345.23" x2="274.08" y2="344.63" stroke="#888" stroke-width="0.45" />
<line x1="280.83" y1="345.59" x2="279.56" y2="345.36" stroke="#888" stroke-width="0.45" />
<line x1="283.10" y1="347.09" x2="283.23" y2="346.14" stroke="#888" stroke-width="0.45" />
<line x1="296.51" y1="346.73" x2="296.18" y2="345.57" stroke="#888" stroke-width="0.45" />
<line x1="287.23" y1="351.98" x2="287.12" y2="352.65" stroke="#888" stroke-width="0.45" />
<line x1="287.45" y1="351.24" x2="287.88" y2="350.10" stroke="#888" stroke-width="0.45" />
<line x1="293.79" y1="351.72" x2="294.54" y2="351.21" stroke="#888" stroke-width="0.45" />
<line x1="293.18" y1="351.03" x2="293.83" y2="351.60" stroke="#888" stroke-width="0.45" />
<line x1="282.32" y1="352.06" x2="283.06" y2="351.96" stroke="#888" stroke-width="0.45" />
<line x1="290.13" y1="344.09" x2="289.30" y2="344.06" stroke="#888" stroke-width="0.45" />
<line x1="290.75" y1="348.08" x2="291.16" y2="348.77" stroke="#888" stroke-width="0.45" />
<line x1="294.67" y1="347.02" x2="295.31" y2="346.57" stroke="#888" stroke-width="0.45" />
<line x1="295.63" y1="344.60" x2="294.71" y2="345.44" stroke="#888" stroke-width="0.45" />
<line x1="283.58" y1="352.12" x2="284.60" y2="352.17" stroke="#888" stroke-width="0.45" />
<line x1="291.95" y1="344.50" x2="292.82" y2="343.63" stroke="#888" stroke-width="0.45" />
<line x1="291.09" y1="348.62" x2="290.83" y2="347.76" stroke="#888" stroke-width="0.45" />
<line x1="285.99" y1="344.24" x2="285.21" y2="344.92" stroke="#888" stroke-width="0.45" />
<line x1="289.50" y1="344.49" x2="288.85" y2="345.26" stroke="#888" stroke-width="0.45" />
<line x1="296.82" y1="351.40" x2="296.93" y2="350.26" stroke="#888" stroke-width="0.45" />
<line x1="296.75" y1="352.15" x2="297.44" y2="352.08" stroke="#888" stroke-width="0.45" />
<line x1="289.52" y1="352.93" x2="288.75" y2="352.55" stroke="#888" stroke-width="0.45" />
<line x1="280.50" y1="353.00" x2="280.39" y2="352.11" stroke="#888" stroke-width="0.45" />
<line x1="294.82" y1="348.14" x2="293.75" y2="348.28" stroke="#888" stroke-width="0.45" />
<line x1="279.80" y1="344.83" x2="278.97" y2="344.90" stroke="#888" stroke-width="0.45" />
<line x1="293.04" y1="352.70" x2="294.09" y2="352.93" stroke="#888" stroke-width="0.45" />
<line x1="294.69" y1="346.72" x2="293.68" y2="346.89" stroke="#888" stroke-width="0.45" />
<line x1="296.54" y1="350.07" x2="295.49" y2="350.36" stroke="#888" stroke-width="0.45" />
<line x1="280.41" y1="345.71" x2="280.32" y2="346.55" stroke="#888" stroke-width="0.45" />
<line x1="284.21" y1="351.45" x2="283.94" y2="350.26" stroke="#888" stroke-width="0.45" />
<line x1="283.16" y1="345.33" x2="284.20" y2="344.60" stroke="#888" stroke-width="0.45" />
<line x1="285.10" y1="345.21" x2="284.15" y2="344.93" stroke="#888" stroke-width="0.45" />
<line x1="285.39" y1="353.29" x2="284.60" y2="352.54" stroke="#888" stroke-width="0.45" />
<line x1="292.17" y1="348.01" x2="292.64" y2="348.46" stroke="#888" stroke-width="0.45" />
<line x1="280.81" y1="348.42" x2="281.39" y2="348.22" stroke="#888" stroke-width="0.45" />
<line x1="289.19" y1="349.51" x2="288.20" y2="349.53" stroke="#888" stroke-width="0.45" />
<line x1="281.61" y1="348.93" x2="282.70" y2="348.97" stroke="#888" stroke-width="0.45" />
<line x1="284.68" y1="349.11" x2="283.67" y2="349.55" stroke="#888" stroke-width="0.45" />
<line x1="289.67" y1="345.92" x2="290.22" y2="346.77" stroke="#888" stroke-width="0.45" />
<line x1="289.42" y1="349.99" x2="289.77" y2="348.86" stroke="#888" stroke-width="0.45" />
<line x1="287.86" y1="346.16" x2="287.41" y2="347.34" stroke="#888" stroke-width="0.45" />
<line x1="280.82" y1="352.57" x2="279.91" y2="352.57" stroke="#888" stroke-width="0.45" />
<line x1="288.48" y1="347.94" x2="287.83" y2="347.39" stroke="#888" stroke-width="0.45" />
<line x1="284.01" y1="345.85" x2="283.44" y2="346.85" stroke="#888" stroke-width="0.45" />
<line x1="287.86" y1="344.98" x2="287.40" y2="343.92" stroke="#888" stroke-width="0.45" />
<line x1="281.98" y1="348.70" x2="281.73" y2="348.15" stroke="#888" stroke-width="0.45" />
<line x1="293.85" y1="346.37" x2="293.02" y2="347.29" stroke="#888" stroke-width="0.45" />
<rect x="41.50" y="409.50" width="101.60" height="72.00" stroke="#555" stroke-width="0.8" fill="none" />
<text transform="translate(44.90 416.10) scale(0.9348 1)" font-size="4.600" fill="#555" text-anchor="start" font-weight="normal" xml:space="preserve" >Cimentación</text>
<text transform="translate(44.90 424.40) scale(0.9299 1)" font-size="4.600" fill="#555" text-anchor="start" font-weight="normal" xml:space="preserve" >Replanteo</text>
<text transform="translate(44.90 433.90) scale(0.9325 1)" font-size="4.600" fill="#555" text-anchor="start" font-weight="normal" xml:space="preserve" >Hormigón:  HA-25 , Control Estadístico</text>
<text transform="translate(44.90 442.80) scale(0.9350 1)" font-size="4.600" fill="#555" text-anchor="start" font-weight="normal" xml:space="preserve" >Aceros en cimentación:  B 400 S , Control Normal</text>
<text transform="translate(44.90 460.80) scale(0.9309 1)" font-size="4.600" fill="#555" text-anchor="start" font-weight="normal" xml:space="preserve" >Armadura base en losas de cimentación</text>
<text transform="translate(47.10 469.80) scale(0.9269 1)" font-size="4.600" fill="#555" text-anchor="start" font-weight="normal" xml:space="preserve" >Paños: L1</text>
<text transform="translate(47.10 478.70) scale(0.9321 1)" font-size="4.600" fill="#555" text-anchor="start" font-weight="normal" xml:space="preserve" >Superior: Ø12 cada 30  Inferior: Ø12 cada 30</text>
</svg></div></body></html>
